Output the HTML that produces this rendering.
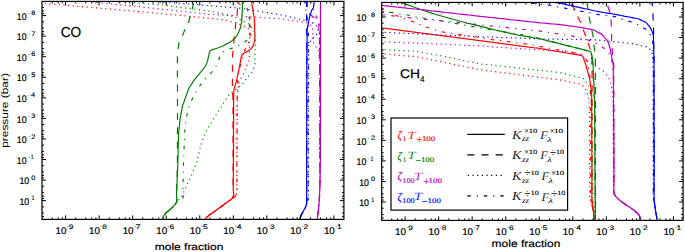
<!DOCTYPE html>
<html><head><meta charset="utf-8"><style>
html,body{margin:0;padding:0;background:#fff;width:685px;height:252px;overflow:hidden}
svg{display:block}
text{font-family:"Liberation Sans",sans-serif;text-rendering:geometricPrecision}
</style></head><body>
<svg width="685" height="252" viewBox="0 0 685 252" font-family="Liberation Sans, sans-serif">
<rect width="685" height="252" fill="#fff"/>
<defs><clipPath id="cl"><rect x="42" y="1.4" width="301.9" height="218"/></clipPath><clipPath id="cr"><rect x="381.7" y="2.45" width="301.4" height="217.95"/></clipPath></defs>
<g clip-path="url(#cl)">
<path d="M251.4 0 251.6 1.7 251.9 3.3 252.1 5 252.3 6.7 252.6 8.3 252.8 10 253.2 12.4 253.6 14.8 254 17.1 254.4 19.5 254.5 21.8 254.6 24.2 254.6 26.7 254.7 29 254.8 31.4 254.8 33.8 254.8 35.8 254.8 37.8 254.7 39.8 254.4 41.7 253.8 43.9 252.9 46.1 251.8 47.9 250.4 49.3 248.7 50.5 247 51.5 244.8 52.7 242.9 53.9 241.5 55.9 241 57.9 240.6 60.4 240.2 62.8 239.8 65.2 239.3 67.5 238.9 69.8 238.4 72 237.9 74.1 237.4 76.2 237 78.4 236.5 80.5 236 82.7 235.3 85 234.5 87.4 234 89.6 233.8 91.4 233.8 93.1 233.8 94.8 233.7 96.5 233.7 98.2 233.6 100 233.6 102.3 233.6 104.7 233.6 107.1 233.6 109.5 233.6 111.9 233.6 114.3 233.6 116.7 233.6 119 233.6 121.4 233.6 123.8 233.5 126.2 233.5 128.6 233.5 131 233.5 133.3 233.5 135.7 233.5 138.1 233.5 140.5 233.5 142.9 233.5 145.2 233.5 147.6 233.5 150 233.5 151.9 233.5 153.9 233.5 155.8 233.4 157.8 233.4 159.7 233.4 161.7 233.4 163.6 233.4 165.6 233.4 167.5 233.4 169.5 233.4 171.4 233.4 173.3 233.3 175.3 233.3 177.2 233.3 179.2 233.3 181.1 233.3 183.1 233.3 185 233.3 187 233.2 188.9 233.4 190.9 233.6 193 233.6 194.9 233.2 196.7 232.2 198.2 230.7 199.5 229.1 200.7 227.6 201.8 225.9 203.1 224.3 204.3 222.6 205.4 221 206.7 219.3 207.9 217.7 209.1 216.2 210.2 214.8 211.2 213.4 212.2 211.9 213.2 210.5 214.2 209.1 215.3 207.1 216.9 205.5 218.5 204.8 219.7 204.3 221.0" stroke="#ff0000" stroke-width="1.2" fill="none" stroke-linejoin="round"/>
<path d="M236.8 1.6 238.2 2.6 239.2 3.7 240.3 4.9" stroke="#ff0000" stroke-width="1.2" fill="none" stroke-linejoin="round"/>
<path d="M237.5 7 237.5 8.2 237.4 9.5 237.4 11.6 237.2 14 236.8 16.2 236.2 18.6 235.8 21 235.6 23.4 235.5 25.8 235.4 28 235.1 30.1 234.8 32 234.5 34 234.2 36 234.1 37.7 234 39.6 233.9 41.4 233.7 43.2 233.6 45.1 233.5 46.8 233.3 48.9 233.1 50.9 232.8 52.9 232.6 55 232.5 57.2 232.6 59.6 232.6 62 232.5 64.3 232.5 66.7 232.5 69 232.5 71.3 232.5 73.7 232.5 76 232.5 78.3 232.5 80.7 232.4 83 232.4 85.4 232.4 87.8 232.4 90 232.5 91.7 232.6 93.4 232.7 95 232.8 96.6 232.9 98.3 233 100 233 102.3 233 104.7 233 107.1 233 109.5 233 111.9 233 114.3 233 116.7 233 119 233 121.4 233 123.8 233 126.2 233 128.6 233 131 233 133.3 233 135.7 233 138.1 233 140.5 233 142.9 233 145.2 233 147.6 233 150 233 151.9 233 153.9 233 155.8 233 157.8 233 159.7 233.1 161.7 233.1 163.6 233.1 165.6 233.1 167.5 233.1 169.5 233.1 171.4 233.1 173.4 233.1 175.3 233.1 177.2 233.1 179.2 233.1 181.1 233.1 183.1 233.2 185 233.2 187 233.2 188.9 233.3 190.9 233.5 193 233.6 194.9 233.2 196.7 232.2 198.2 230.7 199.5 229.1 200.7 227.6 201.8 225.9 203.1 224.3 204.3 222.6 205.4 221 206.7 219.3 207.9 217.7 209.1 216.2 210.2 214.8 211.2 213.4 212.2 211.9 213.2 210.5 214.2 209.1 215.3 207.1 216.9 205.5 218.5 204.8 219.7 204.3 221.0" stroke="#ff0000" stroke-width="1.2" fill="none" stroke-linejoin="round" stroke-dasharray="7.1,7.1" stroke-dashoffset="13.00"/>
<path d="M42 3.2 44.4 3.4 46.9 3.6 49.3 3.8 51.7 4 54.2 4.3 56.6 4.5 59 4.7 61.5 4.9 63.9 5.1 66.3 5.3 68.8 5.5 71.2 5.7 73.6 5.9 76.1 6.2 78.5 6.4 80.9 6.6 83.4 6.8 85.8 7 88.2 7.2 90.5 7.4 92.8 7.6 95.2 7.8 97.5 8 99.8 8.2 102.2 8.4 104.5 8.6 106.9 8.8 109.2 9 111.6 9.2 113.9 9.4 116.2 9.6 118.6 9.8 120.9 10 123.3 10.2 125.6 10.4 128 10.6 130.3 10.8 132.6 11 135 11.2 137.3 11.4 139.7 11.6 142 11.8 144.3 12 146.6 12.2 149 12.5 151.3 12.7 153.6 12.9 155.9 13.1 158.3 13.3 160.6 13.5 162.9 13.8 165.2 14 167.5 14.2 169.9 14.4 172.2 14.6 174.5 14.8 176.8 15.1 179.1 15.3 181.4 15.5 183.8 15.7 185.7 15.9 187.7 16.1 189.7 16.3 191.7 16.5 193.7 16.7 195.7 16.9 197.7 17.1 199.7 17.3 201.7 17.5 203.7 17.7 205.7 17.9 207.6 18.1 209.6 18.3 211.4 18.5 213.3 18.7 215.2 18.9 217.1 19.1 219 19.3 220.9 19.5 222.8 19.6 224.7 19.9 226.7 20.4 228.8 21.1 230.8 21.7 232.8 22.3 234.9 22.9 236.9 23.5 239.1 24.2 241.2 25 243.3 25.9 245.2 26.8 247.1 27.7 248.5 29 249.2 30.8 249.5 32.9 249.6 35 249.7 37.1 249.6 39.1 249.5 41.2 249.5 43.3 249.5 45.3 249.5 47.4 249.4 49.5 249.4 51.5 249.4 53.6 249.4 55.7 249.5 57.8 249.3 59.8 248.6 61.8 247.7 63.9 246.8 65.8 246.1 67.5 245.5 69.1 244.8 70.8 243.9 72.7 242.9 74.7 241.9 76.7 240.8 78.7 239.8 80.6 238.9 82.7 238.5 84.6 238.2 86.7 238.1 88.7 237.9 90.6 237.7 93 237.6 95.3 237.4 97.6 237.2 100 237.2 101.8 237.2 103.8 237.2 105.8 237.2 107.8 237.2 109.7 237.2 111.7 237.1 113.6 237.1 115.6 237.1 117.5 237.1 119.5 237.1 121.4 237.1 123.4 237.1 125.3 237.1 127.2 237.1 129.2 237.1 131.1 237.1 133.1 237.1 135 237 137 237 138.9 237 140.9 237 142.8 237 144.8 237 146.7 237 148.6 237 150.6 237 152.5 237 154.5 237 156.4 236.9 158.4 236.9 160.3 236.9 162.3 236.9 164.2 236.9 166.2 236.9 168.1 236.9 170.1 236.9 172 236.9 173.9 236.9 175.9 236.9 177.8 236.9 179.8 236.9 181.7 236.8 183.7 236.8 185.6 236.9 187.6 237.1 189.6 237.1 191.6 236.8 193.4 235.9 195.3 234.5 197 233 198.5 231.3 199.7 229.4 200.7 227.6 201.8 225.9 203 224.3 204.2 222.7 205.5 221 206.7 219.3 207.9 217.7 209.1 216.2 210.2 214.8 211.2 213.4 212.2 211.9 213.2 210.5 214.2 209.1 215.3 207.1 216.9 205.5 218.5 204.8 219.7 204.3 221.0" stroke="#ff0000" stroke-width="1.2" fill="none" stroke-linejoin="round" stroke-dasharray="1.17,3.5" stroke-dashoffset="1.90"/>
<path d="M249.4 16.5 249.7 18.6 250 20.8 250.3 22.8 250.5 25 250.5 26.7 250.4 28.6 250.3 30.6 250.3 32.5 250.3 34.5 250.3 36.5 250.3 38.4 250 40 249 41.5 247.9 43 247.1 44.5 246.3 46.3 245.6 48.2 244.9 50 244.2 52 243.6 54 242.9 56 242.3 58 241.6 59.9 241 62 240.6 63.8 240.2 65.6 239.8 67.5 239.4 69.3 239 71.2 238.6 73 238.2 74.8 237.9 76.7 237.7 78.6 237.7 80.6 237.7 82.5 237.7 84.5 237.6 86.4 237.5 88.3 237.5 90.3 237.4 92.2 237.4 94.2 237.3 96.1 237.2 98.1 237.2 100 237.2 101.9 237.2 103.9 237.2 105.8 237.2 107.8 237.2 109.7 237.2 111.7 237.1 113.6 237.1 115.6 237.1 117.5 237.1 119.5 237.1 121.4 237.1 123.4 237.1 125.3 237.1 127.2 237.1 129.2 237.1 131.1 237.1 133.1 237.1 135 237 137 237 138.9 237 140.9 237 142.8 237 144.8 237 146.7 237 148.6 237 150.6 237 152.5 237 154.5 237 156.4 236.9 158.4 236.9 160.3 236.9 162.3 236.9 164.2 236.9 166.2 236.9 168.1 236.9 170.1 236.9 172 236.9 173.9 236.9 175.9 236.9 177.8 236.9 179.8 236.9 181.7 236.8 183.7 236.8 185.6 236.9 187.6 237.1 189.6 237.1 191.6 236.8 193.4 235.9 195.3 234.5 197 233 198.5 231.3 199.7 229.4 200.7 227.6 201.8 225.9 203 224.3 204.2 222.7 205.5 221 206.7 219.3 207.9 217.7 209.1 216.2 210.2 214.8 211.2 213.4 212.2 211.9 213.2 210.5 214.2 209.1 215.3 207.1 216.9 205.5 218.5 204.8 219.7 204.3 221.0" stroke="#ff0000" stroke-width="1.2" fill="none" stroke-linejoin="round" stroke-dasharray="3.5,5.9,1.17,5.9"/>
<path d="M242.5 0 242.5 1.7 242.4 3.3 242.4 5 242.4 6.7 242.3 8.3 242.3 10 242.2 11.7 242.1 13.3 242.1 15 242 16.6 241.9 18.3 241.8 20 241.5 22.3 241.1 24.7 240.6 27.1 239.9 29.2 239.1 31.2 238.2 33.1 237.1 35 236 36.8 234.6 38.5 232.9 40 231.1 41.4 229.3 42.6 227.5 43.6 225.7 44.4 224 45.3 222.1 46.2 220.3 47 218.4 47.7 216.5 48.5 214.2 49.1 212 49.8 210.2 50.8 209.4 52.3 209.1 54.1 208.7 55.9 208.2 58 207.7 60.2 207.1 62.2 206.4 63.9 205.6 65.5 204.7 67 203.3 68.8 201.9 70.6 200.5 72.3 199.1 74.1 197.6 75.9 195.9 77.8 194.4 79.7 193 81.8 191.7 83.8 190.3 85.8 189 88 188.1 90.2 187.2 92.6 186.4 95 185.7 96.9 185.1 98.7 184.4 100.5 183.8 102.4 183.1 104.2 182.5 106.1 182 108.2 181.7 110.3 181.3 112.4 180.9 114.6 180.5 116.7 180.1 118.8 179.9 120.6 179.7 122.4 179.6 124.2 179.4 126 179.2 127.8 179 129.6 178.8 131.4 178.7 133.1 178.5 135 178.4 136.8 178.4 138.7 178.4 140.6 178.3 142.5 178.3 144.4 178.2 146.2 178.2 148.1 178.1 150 178.1 151.9 178.1 153.8 178 155.6 178 157.5 177.9 159.4 177.9 161.3 177.9 163.1 177.8 165 177.7 166.9 177.6 168.8 177.6 170.6 177.5 172.5 177.4 174.4 177.3 176.2 177.2 178.1 177.1 180 177.1 181.9 177 183.7 176.9 185.6 176.8 187.5 176.7 189.4 176.6 191.3 176.6 193.1 176.5 195 176.6 197.4 176.8 199.8 176.6 202 175.8 203.5 174.7 204.9 173.5 206.2 172.2 207.5 170.8 208.8 169.5 210 167.7 211.4 166.1 212.8 165 214.1 164 215.5 163.2 217 162.6 218.5 162.3 219.8 162 221.0" stroke="#008000" stroke-width="1.2" fill="none" stroke-linejoin="round"/>
<path d="M192.7 0 192.9 2 193 4.2 192.8 6.3 192.5 8.5 192 10.7 191.5 12.5 191 14.3 190.4 16.1 189.8 17.9 189.2 20.1 188.7 22.3 188 24.4 186.9 26.6 185.6 28.7 184.5 30.7 183.6 32.8 182.8 34.9 181.9 36.9 181 39 179.9 40.8 179 42.6 178.6 44.7 178.4 46.8 178 48.9 177.7 51 177.6 52.6 177.5 54.2 177.4 56 177.4 58.3 177.4 60.8 177.4 63.3 177.4 65.8 177.4 68.2 177.4 70.7 177.4 73.1 177.4 75.6 177.4 78 177.5 80.4 177.5 82.9 177.5 85.3 177.5 87.8 177.5 90.2 177.5 92.7 177.5 95.1 177.5 97.6 177.5 100 177.5 102.4 177.5 104.8 177.5 107.2 177.5 109.6 177.5 112 177.5 114.4 177.5 116.9 177.5 119.3 177.5 121.7 177.5 124.1 177.5 126.5 177.5 128.9 177.5 131.3 177.4 133.7 177.4 136.1 177.4 138.5 177.4 140.9 177.4 143.3 177.4 145.7 177.4 148.1 177.4 150.6 177.4 153 177.4 155.4 177.4 157.8 177.4 160.2 177.4 162.6 177.4 165 177.4 166.9 177.3 168.7 177.2 170.6 177.2 172.5 177.1 174.4 177.1 176.3 177 178.1 176.9 180 176.9 181.9 176.8 183.8 176.8 185.6 176.7 187.5 176.7 189.4 176.6 191.3 176.5 193.1 176.5 195 176.7 197.4 176.8 199.8 176.6 202 175.8 203.5 174.7 204.9 173.5 206.2 172.2 207.5 170.8 208.8 169.5 210 167.7 211.4 166.1 212.8 165 214.1 164 215.5 163.2 217 162.6 218.5 162.3 219.8 162 221.0" stroke="#008000" stroke-width="1.2" fill="none" stroke-linejoin="round" stroke-dasharray="7.1,7.1" stroke-dashoffset="11.87"/>
<path d="M245.5 0 245.7 2 245.9 4 246.2 6 246.8 8 247.6 10 248.2 12 248.6 14.5 248.8 16.9 249.2 19.4 249.5 21.8 249.6 23.9 249.6 25.9 249.6 27.9 249.6 30 249.6 32.4 249.4 35 248.9 37.3 248 38.9 246.8 40.2 245.5 41.5 243.8 42.8 242 43.9 240 45 238.3 45.8 236.5 46.6 234.7 47.4 233 48 230.6 48.7 228.3 49.5 226.3 50.3 224.2 51.3 222.5 52.5 221.3 54 220.4 55.7 219.6 57.5 218.9 59.2 218.3 60.9 217.6 62.6 216.7 64.7 215.7 66.9 214.5 69 213.1 70.8 211.6 72.4 210 74 208.5 75.4 207.1 76.7 205.7 78.1 204.5 79.6 203.3 81.2 202.1 82.8 200.9 84.4 199.7 86 198.6 87.6 197.6 89.3 196.6 91.1 195.6 92.9 194.6 94.8 193.5 96.6 192.6 98.3 191.6 100.5 190.7 102.6 189.7 104.7 188.8 106.9 188.2 109.3 187.8 111.7 187.2 114 186.7 116.4 186.3 118.6 186 120.7 185.6 122.8 185.3 125 185.2 126.6 185.1 128.3 184.9 130 184.8 131.6 184.7 133.3 184.6 135 184.5 136.8 184.4 138.7 184.4 140.6 184.3 142.5 184.2 144.4 184.1 146.2 184.1 148.1 184 150 183.9 151.9 183.8 153.8 183.8 155.6 183.7 157.5 183.6 159.4 183.5 161.3 183.5 163.2 183.4 165 183.3 167.2 183.3 169.4 183.3 171.6 183.2 173.8 183.2 176 183.2 178.2 183.1 180.4 183.1 182.6 183 184.8 183 187 183 189.2 182.9 191.4 183.1 193.7 183.3 196 182.8 198 181.1 199.5 178.7 200.7 176.6 202 175.5 203.4 174.5 204.8 173.5 206.2 172.2 207.5 170.8 208.8 169.5 210 167.7 211.4 166.1 212.8 165 214.1 164 215.5 163.2 217 162.6 218.5 162.3 219.8 162 221.0" stroke="#008000" stroke-width="1.2" fill="none" stroke-linejoin="round" stroke-dasharray="3.5,5.9,1.17,5.9" stroke-dashoffset="8.36"/>
<path d="M120 1.8 122.2 1.9 124.4 2.1 126.7 2.2 128.9 2.3 131.1 2.5 133.3 2.6 135.5 2.7 137.8 2.9 140 3 142.5 3.2 145 3.4 147.5 3.7 150 3.9 152.4 4.1 154.9 4.3 157.4 4.5 159.9 4.8 162.4 5 164.8 5.3 167.2 5.6 169.6 6 171.9 6.3 174.3 6.6 176.7 6.9 178.8 7.2 180.9 7.4 183 7.7 185.1 8 187.3 8.2 189.4 8.5 191.5 8.8 193.6 9 195.7 9.3 197.7 9.6 199.7 9.9 201.7 10.2 203.7 10.5 205.6 10.7 207.6 11 209.6 11.3 211.6 11.6 213.6 11.9 215.5 12.3 217.4 12.7 219.2 13.1 221.1 13.5 223 13.9 224.9 14.3 226.8 14.7 228.7 15 230.5 15.5 232.1 16.1 233.7 16.8 235.2 17.5 236.8 18.2 238.4 18.8 240 19.5 241.5 20.2 243 21 244.5 21.8 246.1 22.4 247.6 23.1 249 24 250.4 25.8 251.7 27.9 253.1 29.7 254.3 31.7 254.6 33.7 254.8 35.9 255 37.9 255.2 40 255.2 41.9 255.2 44 255.1 46 255.1 48 255 50 255 52 255 54.1 254.9 56.3 254.9 58.4 254.9 60.5 255 62.7 254.8 64.8 254.3 66.9 253.6 68.9 252.8 70.8 251.9 72.2 250.9 73.5 249.8 74.8 248.5 76.4 247.2 78 245.8 79.7 244.5 81.4 243.3 83.1 241.9 84.7 240.3 86.1 238.6 87.4 236.9 88.7 235.1 90 233.2 91.3 231.5 92.6 230.1 93.9 228.9 95.2 227.7 96.6 226.4 98.5 225.1 100.6 223.8 102.7 222.5 104.8 221.2 106.8 219.9 108.9 218.6 110.9 217.3 113 216 115 214.8 116.9 213.7 118.8 212.5 120.8 211.3 122.7 210.2 124.6 209 126.5 207.8 128.4 206.6 130.3 205.5 132.3 204.6 134.5 203.9 136.8 203.1 139.1 202.3 141.3 201.4 143.6 200.7 145.8 200.2 147.7 199.8 149.5 199.4 151.4 198.9 153.3 198.5 155.1 198 157 197.6 158.9 197.2 160.8 196.7 162.6 196.1 164.4 195.3 166.1 194.6 167.8 193.9 169.5 193.2 171.2 192.5 173 191.6 175 190.7 176.9 189.8 178.9 188.9 180.9 188 182.9 187.1 184.8 186.2 186.8 185.3 188.8 184.4 190.8 183.5 192.8 182.7 194.9 181.7 196.7 180.4 198.4 178.9 199.8 177.6 201.4 176.2 203 174.9 204.6 173.5 206.2 172.2 207.5 170.9 208.8 169.5 210 167.7 211.4 166.1 212.8 165 214.1 164 215.5 163.2 217 162.6 218.5 162.3 219.8 162 221.0" stroke="#008000" stroke-width="1.2" fill="none" stroke-linejoin="round" stroke-dasharray="1.17,3.5"/>
<path d="M320.5 0 320.5 1.9 320.5 3.8 320.5 5.8 320.5 7.7 320.5 9.6 320.5 11.5 320.5 13.5 320.5 15.4 320.5 17.3 320.5 19.2 320.5 21.2 320.5 23.1 320.5 25 320.5 26.9 320.5 28.8 320.5 30.8 320.5 32.7 320.5 34.6 320.5 36.5 320.5 38.5 320.5 40.4 320.5 42.3 320.5 44.2 320.5 46.2 320.5 48.1 320.5 50 320.5 51.9 320.5 53.8 320.5 55.8 320.5 57.7 320.5 59.6 320.5 61.5 320.5 63.5 320.5 65.4 320.5 67.3 320.5 69.2 320.5 71.2 320.5 73.1 320.5 75 320.5 76.9 320.5 78.8 320.5 80.8 320.5 82.7 320.5 84.6 320.5 86.5 320.5 88.5 320.5 90.4 320.5 92.3 320.5 94.2 320.5 96.2 320.5 98.1 320.5 100 320.5 101.9 320.5 103.8 320.5 105.6 320.5 107.5 320.5 109.4 320.5 111.2 320.5 113.1 320.5 115 320.5 116.9 320.5 118.8 320.5 120.6 320.5 122.5 320.5 124.4 320.5 126.2 320.5 128.1 320.4 130 320.4 131.9 320.4 133.8 320.4 135.6 320.4 137.5 320.4 139.4 320.4 141.2 320.4 143.1 320.4 145 320.4 146.9 320.4 148.8 320.4 150.6 320.4 152.5 320.4 154.4 320.4 156.3 320.4 158.2 320.4 160 320.4 162.1 320.3 164.2 320.3 166.2 320.2 168.3 320.2 170.4 320.1 172.5 320.1 174.6 320.1 176.7 320 178.8 320 180.8 320 182.9 319.9 185 319.8 186.8 319.8 188.7 319.7 190.6 319.6 192.5 319.5 194.4 319.5 196.4 319.4 198.3 319.3 200 319.1 202.1 319 204 318.8 206 318.6 208 318.4 210 318.1 212 317.8 214 317.6 216 317.5 217.6 317.3 219.3 317.2 221.0" stroke="#bf00bf" stroke-width="1.2" fill="none" stroke-linejoin="round"/>
<path d="M307.4 0 307.4 1.9 307.4 3.9 307.4 5.8 307.2 7.8 307.1 9.8 307.4 11.6 308.6 13.2 310.3 14.7 312 16 313.7 17.5 315.2 19 317 20.4 318.5 22 318.9 23.8 318.9 25.9 318.8 28 318.9 30 319.1 32 319.2 34 319.3 36 319.4 37.9 319.5 40 319.5 41.8 319.5 43.8 319.5 45.7 319.5 47.6 319.5 49.5 319.5 51.4 319.5 53.4 319.5 55.3 319.5 57.2 319.6 59.1 319.6 61 319.6 62.9 319.6 64.8 319.6 66.7 319.6 68.6 319.6 70.5 319.6 72.4 319.6 74.3 319.6 76.2 319.6 78.2 319.6 80.1 319.6 82 319.6 83.9 319.6 85.8 319.6 87.7 319.6 89.6 319.6 91.5 319.6 93.4 319.7 95.3 319.7 97.2 319.7 99.1 319.7 101.1 319.7 103 319.7 104.9 319.7 106.8 319.7 108.7 319.7 110.6 319.7 112.5 319.7 114.4 319.7 116.3 319.7 118.2 319.7 120.1 319.7 122 319.7 123.9 319.7 125.9 319.7 127.8 319.7 129.7 319.8 131.6 319.8 133.5 319.8 135.4 319.8 137.3 319.8 139.2 319.8 141.1 319.8 143 319.8 144.9 319.8 146.8 319.8 148.7 319.8 150.7 319.8 152.6 319.8 154.5 319.8 156.4 319.8 158.3 319.8 160.2 319.8 162.1 319.8 164 319.8 165.9 319.9 167.8 319.9 169.7 319.9 171.6 319.9 173.6 319.9 175.5 319.9 177.4 319.9 179.3 319.9 181.2 319.9 183.1 319.9 185 319.8 186.9 319.8 188.8 319.7 190.6 319.6 192.5 319.5 194.4 319.5 196.4 319.4 198.3 319.3 200 319.1 202.1 319 204 318.8 206 318.6 208 318.4 210 318.1 212 317.8 214 317.6 216 317.5 217.6 317.3 219.3 317.2 221.0" stroke="#bf00bf" stroke-width="1.2" fill="none" stroke-linejoin="round" stroke-dasharray="7.1,7.1"/>
<path d="M310 0 310.7 1.8 311.3 3.6 312 5.3 312.7 7.1 313.3 8.9 314 10.7 314.7 12.5 315.3 14.2 316 16 316.6 17.7 317.2 19.3 317.8 21 318.4 22.6 319 24.2 319.5 26 319.7 28.3 319.6 30.9 319.5 33.4 319.5 35.9 319.5 38.3 319.5 40.8 319.5 43.3 319.5 45.7 319.5 48.2 319.5 50.7 319.5 53.1 319.5 55.6 319.5 58.1 319.5 60.5 319.6 63 319.6 65.5 319.6 67.9 319.6 70.4 319.6 72.9 319.6 75.3 319.6 77.8 319.6 80.3 319.6 82.7 319.6 85.2 319.6 87.7 319.6 90.1 319.6 92.6 319.6 95.1 319.6 97.5 319.6 100 319.6 101.9 319.6 103.9 319.6 105.8 319.6 107.7 319.6 109.7 319.6 111.6 319.6 113.5 319.7 115.5 319.7 117.4 319.7 119.3 319.7 121.2 319.7 123.2 319.7 125.1 319.7 127 319.7 129 319.7 130.9 319.7 132.8 319.7 134.8 319.7 136.7 319.7 138.6 319.7 140.6 319.8 142.5 319.8 144.4 319.8 146.4 319.8 148.3 319.8 150.2 319.8 152.2 319.8 154.1 319.8 156 319.8 158 319.8 159.9 319.8 161.8 319.8 163.8 319.8 165.7 319.8 167.6 319.8 169.5 319.9 171.5 319.9 173.4 319.9 175.3 319.9 177.3 319.9 179.2 319.9 181.1 319.9 183.1 319.9 185 319.8 186.9 319.8 188.8 319.7 190.6 319.6 192.5 319.5 194.4 319.5 196.4 319.4 198.3 319.3 200 319.1 202.1 319 204 318.8 206 318.6 208 318.4 210 318.1 212 317.8 214 317.6 216 317.5 217.6 317.3 219.3 317.2 221.0" stroke="#bf00bf" stroke-width="1.2" fill="none" stroke-linejoin="round" stroke-dasharray="3.5,5.9,1.17,5.9"/>
<path d="M92.4 1.8 94.8 2 97.1 2.3 99.5 2.5 101.8 2.8 104.2 3 106.6 3.3 108.9 3.5 111.3 3.8 113.7 4 116 4.3 118.4 4.5 120.7 4.8 123.1 5 125.5 5.3 127.8 5.5 130.2 5.8 132.6 6 134.9 6.3 137.3 6.5 139.6 6.7 142 7 144.5 7.3 146.9 7.5 149.4 7.8 151.9 8.1 154.3 8.4 156.8 8.6 159.3 8.9 161.7 9.2 164.2 9.4 166.7 9.7 169.1 10 171.6 10.2 174.1 10.5 176.5 10.8 179 11.1 181.5 11.3 183.9 11.6 186.4 11.9 188.9 12.1 191.3 12.4 193.8 12.7 196.3 12.9 198.7 13.2 201.2 13.5 203.7 13.8 206.2 14.1 208.6 14.3 210.8 14.4 212.9 14.5 215.1 14.6 217.2 14.7 219.4 14.9 221.5 15 223.7 15.1 225.8 15.2 228 15.3 230.4 15.5 232.9 15.6 235.4 15.8 237.9 16 240.4 16.1 242.9 16.3 245.3 16.5 247.8 16.6 250.3 16.8 252.8 17 255.2 17.1 257.7 17.3 260.2 17.5 262.7 17.6 265.1 17.8 267.6 18 270.1 18.1 272.6 18.3 275.1 18.4 277.6 18.6 280 18.8 282.1 19.1 284.1 19.4 286.1 19.7 288.2 20 290.2 20.3 292.3 20.6 294.4 20.8 296.4 21.1 298.5 21.4 300.5 21.7 302.6 21.9 304.6 22.3 306.4 22.7 308 23.2 309.5 24 311.2 25.7 312.4 28 312.8 30.3 312.7 33 312.6 35.4 312.4 37.8 312.4 40.1 313.2 42.3 314.4 44.3 315.6 46.1 316.8 47.9 317.8 49.9 318.6 52 319 54 319.2 56.2 319.3 58.4 319.3 60.7 319.4 63.1 319.4 65.4 319.5 67.7 319.5 70 319.5 71.9 319.5 73.8 319.5 75.7 319.5 77.7 319.5 79.6 319.5 81.5 319.5 83.4 319.6 85.3 319.6 87.2 319.6 89.2 319.6 91.1 319.6 93 319.6 94.9 319.6 96.8 319.6 98.8 319.6 100.7 319.6 102.6 319.6 104.5 319.6 106.4 319.6 108.3 319.6 110.2 319.6 112.2 319.7 114.1 319.7 116 319.7 117.9 319.7 119.8 319.7 121.8 319.7 123.7 319.7 125.6 319.7 127.5 319.7 129.4 319.7 131.3 319.7 133.2 319.7 135.2 319.7 137.1 319.7 139 319.7 140.9 319.8 142.8 319.8 144.8 319.8 146.7 319.8 148.6 319.8 150.5 319.8 152.4 319.8 154.3 319.8 156.2 319.8 158.2 319.8 160.1 319.8 162 319.8 163.9 319.8 165.8 319.8 167.8 319.8 169.7 319.9 171.6 319.9 173.5 319.9 175.4 319.9 177.3 319.9 179.3 319.9 181.2 319.9 183.1 319.9 185 319.8 186.9 319.8 188.8 319.7 190.6 319.6 192.5 319.5 194.4 319.5 196.4 319.4 198.3 319.3 200 319.1 202.1 319 204 318.8 206 318.6 208 318.4 210 318.1 212 317.8 214 317.6 216 317.5 217.6 317.3 219.3 317.2 221.0" stroke="#bf00bf" stroke-width="1.2" fill="none" stroke-linejoin="round" stroke-dasharray="1.17,3.5"/>
<path d="M314.5 0 314.2 2 313.9 4 313.7 6.1 313.3 8 311.9 9.9 311.2 11.8 310.6 13.9 310 15.8 309.4 17.9 309 19.8 308.6 21.8 308.2 23.8 307.8 25.8 307.5 27.9 307.2 30 307.1 31.8 307.1 33.7 307.1 35.6 307.1 37.5 307.1 39.4 307.1 41.2 307 43.1 307 45 307 46.9 306.9 48.8 306.9 50.6 306.9 52.5 306.9 54.4 306.8 56.2 306.8 58.1 306.8 60 306.8 61.9 306.8 63.7 306.8 65.6 306.8 67.5 306.8 69.4 306.8 71.2 306.8 73.1 306.8 75 306.8 76.9 306.8 78.8 306.8 80.6 306.8 82.5 306.8 84.4 306.8 86.2 306.7 88.1 306.7 90 306.7 91.9 306.7 93.8 306.7 95.6 306.7 97.5 306.7 99.4 306.7 101.3 306.7 103.1 306.7 105 306.7 106.9 306.7 108.8 306.7 110.6 306.7 112.5 306.7 114.4 306.7 116.3 306.7 118.1 306.7 120 306.7 121.9 306.7 123.8 306.7 125.6 306.7 127.5 306.7 129.4 306.7 131.2 306.7 133.1 306.7 135 306.7 136.9 306.7 138.8 306.6 140.6 306.6 142.5 306.6 144.4 306.6 146.2 306.6 148.1 306.6 150 306.6 151.9 306.6 153.8 306.6 155.6 306.6 157.5 306.6 159.4 306.6 161.2 306.6 163.1 306.6 165 306.6 166.9 306.6 168.8 306.6 170.7 306.6 172.6 306.6 174.6 306.6 176.5 306.6 178.4 306.6 180.3 306.6 182.2 306.6 184.1 306.6 186 306.6 187.9 306.6 189.8 306.6 191.7 306.6 193.6 306.6 195.6 306.6 197.6 306.6 199.7 306.6 201.7 306.6 203.2 306.4 205 305.6 206.9 304.5 209 303.6 210.6 302.7 212.3 301.8 214 300.8 216.3 300 218.5 299.7 219.8 299.5 221.0" stroke="#0000ff" stroke-width="1.2" fill="none" stroke-linejoin="round"/>
<path d="M306.6 0 306.6 2.1 306.6 4.2 306.6 6.2 306.6 8.3 306.6 10.4 306.6 12.5 306.6 14.6 306.6 16.7 306.6 18.8 306.6 20.8 306.6 22.9 306.6 25 306.6 27.3 306.6 29.7 306.6 32 306.7 34.3 306.7 36.7 306.7 39 306.7 41.3 306.7 43.7 306.7 46 306.7 48.3 306.7 50.7 306.8 53 306.8 55.3 306.8 57.6 306.8 60 306.8 61.9 306.8 63.9 306.8 65.8 306.8 67.8 306.8 69.7 306.8 71.7 306.8 73.6 306.8 75.6 306.8 77.5 306.8 79.4 306.8 81.4 306.8 83.3 306.8 85.3 306.8 87.2 306.8 89.2 306.8 91.1 306.8 93.1 306.8 95 306.8 96.9 306.8 98.9 306.8 100.8 306.8 102.8 306.8 104.7 306.8 106.7 306.8 108.6 306.8 110.6 306.8 112.5 306.8 114.4 306.8 116.4 306.8 118.3 306.8 120.3 306.8 122.2 306.8 124.2 306.8 126.1 306.8 128.1 306.8 130 306.8 131.9 306.8 133.9 306.8 135.8 306.8 137.8 306.8 139.7 306.8 141.7 306.8 143.6 306.8 145.6 306.8 147.5 306.8 149.4 306.8 151.4 306.8 153.3 306.8 155.3 306.8 157.2 306.8 159.2 306.8 161.1 306.8 163.1 306.8 165 306.8 166.9 306.8 168.9 306.8 170.8 306.8 172.8 306.8 174.7 306.8 176.7 306.8 178.6 306.8 180.6 306.8 182.5 306.8 184.4 306.8 186.4 306.8 188.3 306.8 190.3 306.8 192.2 306.8 194.2 306.8 196.3 306.8 198.3 306.8 200 306.7 201.7 306.6 203.2 306.4 205 305.6 206.9 304.5 209 303.6 210.6 302.7 212.3 301.8 214 300.8 216.3 300 218.5 299.7 219.8 299.5 221.0" stroke="#0000ff" stroke-width="1.2" fill="none" stroke-linejoin="round" stroke-dasharray="7.1,7.1"/>
<path d="M304.5 0 304.8 2 305 4 305.2 6 305.5 8 305.8 9.9 306.2 12 306.5 14 306.9 16 307.2 18 307.5 20 307.7 21.7 307.8 23.3 308 25 308.1 26.6 308.3 28.3 308.4 30 308.4 31.8 308.4 33.8 308.4 35.8 308.4 37.8 308.4 39.7 308.4 41.7 308.4 43.6 308.4 45.6 308.3 47.5 308.3 49.4 308.3 51.4 308.3 53.3 308.3 55.3 308.3 57.2 308.3 59.2 308.3 61.1 308.3 63.1 308.3 65 308.3 66.9 308.3 68.9 308.3 70.8 308.3 72.8 308.3 74.7 308.3 76.7 308.3 78.6 308.3 80.6 308.2 82.5 308.2 84.4 308.2 86.4 308.2 88.3 308.2 90.3 308.2 92.2 308.2 94.2 308.2 96.1 308.2 98.1 308.2 100 308.2 101.9 308.2 103.8 308.2 105.7 308.2 107.5 308.2 109.4 308.2 111.3 308.2 113.2 308.2 115.1 308.2 117 308.2 118.8 308.2 120.7 308.2 122.6 308.2 124.5 308.2 126.4 308.2 128.3 308.2 130.2 308.2 132 308.2 133.9 308.2 135.8 308.2 137.7 308.2 139.6 308.2 141.5 308.2 143.3 308.2 145.2 308.2 147.1 308.2 149 308.2 150.9 308.2 152.8 308.2 154.7 308.2 156.5 308.2 158.4 308.2 160.3 308.2 162.2 308.2 164.1 308.2 166 308.2 167.8 308.2 169.7 308.2 171.6 308.2 173.5 308.2 175.4 308.2 177.3 308.2 179.2 308.2 181 308.2 182.9 308.2 184.8 308.2 186.7 308.2 188.6 308.2 190.5 308.2 192.4 308.3 194.3 308.3 196.2 308.2 198 307.7 199.9 307.1 201.7 306.6 203.2 306.4 205 305.6 206.9 304.5 209 303.6 210.6 302.7 212.3 301.8 214 300.8 216.3 300 218.5 299.7 219.8 299.5 221.0" stroke="#0000ff" stroke-width="1.2" fill="none" stroke-linejoin="round" stroke-dasharray="3.5,5.9,1.17,5.9"/>
<path d="M160 1.8 161.8 1.9 163.6 2 165.3 2.1 167.1 2.3 168.8 2.4 170.7 2.5 172.5 2.6 174.5 2.8 176.4 3 178.4 3.1 180.3 3.3 182.2 3.5 184.2 3.6 186.1 3.8 188 3.9 189.9 4.1 191.9 4.2 193.8 4.4 195.7 4.6 197.7 4.7 199.6 4.9 201.5 5 203.4 5.2 205.4 5.3 207.3 5.5 209.2 5.7 211.1 5.8 213.1 6 215 6.1 216.9 6.3 218.8 6.5 220.8 6.6 222.7 6.8 224.6 6.9 226.5 7.1 228.5 7.2 230.4 7.4 232.3 7.6 234.2 7.7 236.2 7.8 238.1 8 240 8.2 242.3 8.5 244.6 8.9 246.9 9.3 249.2 9.7 251.6 10.1 253.9 10.5 256.2 10.8 258.5 11.2 260.8 11.6 263.1 12 265.4 12.4 267.7 12.7 270 13.1 272.4 13.5 274.7 13.9 277 14.2 279.3 14.6 281.6 15 283.9 15.5 286.3 16.1 288.6 16.6 291.1 17.2 293.5 17.8 295.7 18.3 297.9 18.8 300 19.3 302.2 19.7 304.4 20.3 306.3 21 308.2 21.8 310 22.5 311.7 22.7 313.3 23.1 315 24.3 316.5 25.9 317.5 28.1 318 30.5 317.9 32.2 317.5 33.6 316.2 34.8 314.8 36.5 313.2 38.3 311.6 39.7 310.2 41.3 309.2 43.5 308.6 46 308.4 47.8 308.5 49.7 308.5 51.7 308.6 53.6 308.6 55.5 308.6 57.4 308.6 59.3 308.6 61.2 308.6 63.1 308.6 65 308.6 66.9 308.6 68.8 308.6 70.7 308.6 72.6 308.6 74.5 308.6 76.4 308.6 78.3 308.6 80.2 308.6 82.1 308.6 84 308.5 85.9 308.5 87.8 308.5 89.7 308.5 91.6 308.5 93.5 308.5 95.4 308.5 97.3 308.5 99.2 308.5 101.1 308.5 103 308.5 104.9 308.5 106.8 308.5 108.7 308.5 110.6 308.5 112.5 308.5 114.4 308.5 116.3 308.5 118.2 308.5 120.1 308.5 122 308.5 123.9 308.5 125.8 308.5 127.7 308.5 129.6 308.5 131.5 308.5 133.4 308.5 135.3 308.5 137.2 308.5 139.1 308.5 141 308.5 142.9 308.5 144.8 308.5 146.7 308.5 148.6 308.5 150.5 308.5 152.4 308.5 154.3 308.5 156.2 308.5 158.1 308.4 160 308.4 161.9 308.4 163.8 308.4 165.7 308.4 167.6 308.4 169.5 308.4 171.4 308.4 173.3 308.4 175.2 308.4 177.1 308.4 179 308.4 180.9 308.4 182.8 308.4 184.7 308.4 186.6 308.4 188.5 308.4 190.4 308.5 192.3 308.5 194.3 308.6 196.2 308.4 198 307.9 199.9 307.1 201.7 306.6 203.2 306.4 205 305.6 206.9 304.5 209 303.6 210.6 302.7 212.3 301.8 214 300.8 216.3 300 218.5 299.7 219.8 299.5 221.0" stroke="#0000ff" stroke-width="1.2" fill="none" stroke-linejoin="round" stroke-dasharray="1.17,3.5"/>
</g>
<g clip-path="url(#cr)">
<path d="M380 27.6 381.9 27.9 383.8 28.1 385.8 28.4 387.7 28.6 389.6 28.9 391.5 29.1 393.5 29.4 395.4 29.6 397.3 29.9 399.2 30.1 401.2 30.4 403.1 30.6 405 30.9 406.9 31.1 408.8 31.4 410.8 31.6 412.7 31.9 414.6 32.1 416.5 32.4 418.5 32.6 420.4 32.9 422.3 33.1 424.2 33.4 426.2 33.6 428.1 33.9 430 34.1 431.9 34.4 433.8 34.7 435.8 34.9 437.7 35.2 439.6 35.4 441.5 35.7 443.5 35.9 445.4 36.2 447.3 36.4 449.2 36.7 451.2 36.9 453.1 37.2 455 37.4 456.9 37.7 458.8 37.9 460.8 38.2 462.7 38.4 464.6 38.7 466.5 38.9 468.5 39.2 470.4 39.4 472.3 39.7 474.2 39.9 476.2 40.2 478.1 40.4 480 40.7 481.9 40.9 483.8 41.2 485.6 41.4 487.5 41.7 489.4 41.9 491.2 42.2 493.1 42.4 495 42.7 496.9 42.9 498.8 43.1 500.6 43.4 502.5 43.6 504.4 43.9 506.2 44.1 508.1 44.4 510 44.6 511.9 44.8 513.8 45.1 515.6 45.3 517.5 45.6 519.4 45.8 521.2 46.1 523.1 46.3 525 46.5 526.9 46.8 528.8 47 530.6 47.3 532.5 47.5 534.4 47.8 536.3 48 538.2 48.2 540 48.5 542.2 48.9 544.4 49.2 546.6 49.6 548.8 50 551.1 50.4 553.3 50.7 555.5 51.1 557.7 51.5 559.9 51.9 562.1 52.2 564.3 52.6 566.5 53 568.7 53.3 571 53.7 573.2 54.1 575.5 54.4 577.8 54.8 579.8 55.2 581.4 55.6 582.6 56.3 583.5 58.1 584.2 60.3 584.9 62.2 585.7 64.3 586.4 66.5 587 69 587.7 71.4 588.3 73.8 589 76.2 589.6 78.6 590 81 590.3 83.4 590.6 85.8 591 88.1 591.3 90.5 591.6 92.9 591.7 95.4 591.7 97.9 591.6 100.4 591.6 102.8 591.7 105.3 591.7 107.8 591.7 110.3 591.7 112.8 591.7 115.3 591.7 117.8 591.7 120.2 591.7 122.7 591.7 125.2 591.8 127.7 591.8 130.2 591.8 132.7 591.8 135.1 591.8 137.6 591.8 140.1 591.8 142.6 591.8 145.1 591.8 147.6 591.9 150.1 591.9 152.5 591.9 155 591.9 157.5 591.9 160 591.9 162.2 591.9 164.5 591.9 166.7 591.9 168.9 591.9 171.1 591.9 173.3 591.9 175.6 591.9 177.8 591.9 180 591.9 182.2 591.9 184.4 591.9 186.7 591.9 188.9 591.9 191.1 591.9 193.3 591.9 195.6 591.8 197.8 591.9 200 592.1 202 592.4 204 592.6 206 592.9 208 593.2 210.1 593.4 212 593.7 214.3 593.9 216.5 594.1 218.8 594.4 221.0" stroke="#ff0000" stroke-width="1.2" fill="none" stroke-linejoin="round"/>
<path d="M570.5 0 571 1.6 571.6 3.3 572.6 5.4 573.7 7.7 574.8 9.8 575.7 11.8 576.5 13.7 577.2 15.5 578.1 17.5 579.1 19.5 580.3 21.8 581.4 24 582.2 26.2 582.9 28.4 583.6 30.6 584.3 32.4 585 34.2 585.7 36 586.4 38.1 587.2 40.4 587.9 42.6 588.7 44.8 589.4 46.9 590.1 49.1 590.7 51.4 591.1 53.7 591.5 56 591.7 57.9 591.9 59.8 592 61.7 592.1 63.6 592.1 65.6 592.1 67.5 592.1 69.5 592.1 71.4 592.1 73.4 592.1 75.4 592.1 77.3 592.1 79.3 592.1 81.3 592.1 83.2 592.1 85.2 592.1 87.2 592.1 89.1 592.1 91.1 592.1 93.1 592.1 95 592.1 97.4 592.1 99.8 592.1 102.2 592.1 104.6 592.1 107 592.1 109.4 592.1 111.9 592.1 114.3 592.1 116.7 592.1 119.1 592.1 121.5 592.1 123.9 592.1 126.3 592 128.7 592 131.1 592 133.5 592 135.9 592 138.3 592 140.7 592 143.1 592 145.6 592 148 592 150.4 592 152.8 592 155.2 592 157.6 592 160 592 162.2 592 164.5 592 166.7 592 168.9 592 171.1 592 173.3 592 175.6 592 177.8 592 180 591.9 182.2 591.9 184.4 591.9 186.7 591.9 188.9 591.9 191.1 591.9 193.3 591.9 195.6 591.8 197.8 591.9 200 592.1 202 592.4 204 592.7 206 592.9 208 593.2 210.1 593.4 212 593.7 214.3 593.9 216.5 594.1 218.8 594.4 221.0" stroke="#ff0000" stroke-width="1.2" fill="none" stroke-linejoin="round" stroke-dasharray="7.1,7.1" stroke-dashoffset="10.36"/>
<path d="M380 53.7 382.4 53.9 384.8 54.1 387.1 54.3 389.5 54.5 391.9 54.7 394.3 54.9 396.7 55.1 399 55.3 401.4 55.5 403.8 55.7 406.2 55.9 408.6 56.1 411 56.3 413.4 56.4 415.7 56.7 417.7 57 419.7 57.5 421.6 57.9 423.6 58.3 425.6 58.7 427.6 59 429.6 59.4 431.6 59.8 433.5 60.2 435.5 60.6 437.5 61 439.5 61.4 441.7 61.9 444 62.3 446.2 62.8 448.5 63.3 450.8 63.7 453 64.2 455.2 64.7 457.5 65.1 459.7 65.6 462 66.1 464.2 66.5 466.5 67 468.8 67.5 471 67.9 473.2 68.4 475.5 68.9 477.7 69.4 480 69.8 482.4 70.1 484.8 70.4 487.3 70.7 489.7 71 492.1 71.3 494.5 71.6 497 71.9 499.4 72.2 501.8 72.5 504.2 72.8 506.7 73.1 509.1 73.4 511.5 73.7 513.9 74 516.4 74.3 518.8 74.6 521.2 75 523.6 75.3 526.1 75.6 528.5 75.9 530.9 76.2 533.3 76.5 535.8 76.8 538.2 77.1 540.6 77.4 543 77.7 545.5 78 547.9 78.3 550.3 78.6 552.7 78.9 555.2 79.2 557.6 79.4 560 79.8 562.4 80.3 564.8 80.8 567.1 81.4 569.5 81.9 571.9 82.4 574.3 82.9 576.7 83.3 579.2 83.7 581.4 84.5 583.2 86.1 584.8 88.1 586 90 586.8 91.9 587.4 93.8 588.2 95.6 588.8 97.6 589 99.5 589.1 101.7 589.1 103.8 589.2 105.8 589.3 107.9 589.4 110 589.4 112.4 589.4 114.9 589.4 117.3 589.4 119.8 589.5 122.2 589.5 124.7 589.5 127.1 589.5 129.6 589.5 132 589.5 134.4 589.5 136.9 589.5 139.3 589.5 141.8 589.6 144.2 589.6 146.7 589.6 149.1 589.6 151.6 589.6 154 589.6 156.4 589.6 158.9 589.6 161.3 589.6 163.8 589.7 166.2 589.7 168.7 589.7 171.1 589.7 173.6 589.7 176 589.7 178.4 589.7 180.9 589.7 183.3 589.7 185.8 589.8 188.2 589.8 190.7 589.7 193.1 589.7 195.6 589.8 198 590.3 200.4 590.9 202.7 591.6 205 592.2 207.4 592.9 209.8 593.4 212 593.7 214.3 593.9 216.5 594.1 218.8 594.4 221.0" stroke="#ff0000" stroke-width="1.2" fill="none" stroke-linejoin="round" stroke-dasharray="1.17,3.5"/>
<path d="M380 8.6 381.7 9.2 383.3 9.9 385 10.6 386.7 11.2 388.4 11.8 390 12.5 391.9 13.4 393.7 14.2 395.6 15.1 397.5 16 399.5 16.7 401.5 17.5 403.4 18.2 405.4 18.9 407.3 19.6 409.2 20.3 411.1 21 413 21.7 414.9 22.5 416.8 23.2 418.6 24 420.5 24.8 422.5 25.6 424.4 26.3 426.3 27 428.4 27.8 430.1 28.4 432 29.1 433.9 29.7 435.6 30.2 437.6 30.7 439.6 31.1 441.4 31.6 443.5 32.1 445.3 32.4 447.4 32.7 449.5 33 451.4 33.3 453.5 33.6 455.4 34 457.3 34.3 459.4 34.6 461.6 34.9 463.9 35.2 466.3 35.6 468.6 35.9 470.8 36.2 473.1 36.5 475.4 36.9 477.7 37.2 480 37.5 482 37.8 484 38.2 485.9 38.5 487.9 38.8 489.9 39.2 491.9 39.5 493.7 39.8 495.5 40 497.3 40.2 499.1 40.5 500.8 40.7 502.6 41 504.4 41.2 506.2 41.5 508 41.7 509.8 41.9 511.6 42.1 513.3 42.4 515.1 42.6 516.9 42.8 518.7 43 520.4 43.2 522.1 43.5 524 43.7 525.9 44 527.8 44.3 529.9 44.6 531.8 44.9 534.1 45.3 536.3 45.7 538.4 46.2 540.7 46.6 542.9 47 545.1 47.4 547.3 47.9 549.5 48.3 551.8 48.7 554 49.1 556.2 49.5 558.4 50 560.6 50.4 562.8 50.8 565 51.2 567.3 51.7 569.5 52.1 571.7 52.5 573.6 52.8 575.5 53.2 577.3 53.5 579.4 53.7 581.4 53.9 583 54.5 584.3 56.2 585.2 58.2 586.5 60 587.5 62 588 63.9 588.2 65.9 588.5 68 588.8 70 589.1 72 589.4 74 589.8 76 590.1 77.9 590.4 80 590.5 81.9 590.5 83.9 590.4 85.9 590.4 87.9 590.4 89.8 590.4 91.8 590.4 93.8 590.4 95.7 590.4 97.7 590.5 99.7 590.5 101.6 590.5 103.6 590.5 105.6 590.5 107.5 590.5 109.5 590.5 111.5 590.5 113.4 590.5 115.4 590.5 117.4 590.5 119.3 590.5 121.3 590.5 123.3 590.5 125.2 590.5 127.2 590.5 129.2 590.5 131.1 590.5 133.1 590.5 135.1 590.5 137 590.5 139 590.6 141 590.6 142.9 590.6 144.9 590.6 146.9 590.6 148.8 590.6 150.8 590.6 152.8 590.6 154.7 590.6 156.7 590.6 158.7 590.6 160.6 590.6 162.6 590.6 164.6 590.6 166.5 590.6 168.5 590.6 170.5 590.6 172.4 590.6 174.4 590.6 176.4 590.7 178.3 590.7 180.3 590.7 182.3 590.7 184.2 590.7 186.2 590.7 188.2 590.7 190.1 590.7 192.1 590.6 194.1 590.6 196.1 590.7 198 591.1 200.4 591.6 202.7 592 205 592.5 207.4 593 209.8 593.4 212 593.7 214.3 593.9 216.5 594.1 218.8 594.4 221.0" stroke="#ff0000" stroke-width="1.2" fill="none" stroke-linejoin="round" stroke-dasharray="3.5,5.9,1.17,5.9" stroke-dashoffset="16.22"/>
<path d="M399.5 0 400.7 1.2 402 2.3 403.8 3.3 406 4.1 408 4.9 410 5.6 411.9 6.3 413.7 7 415.7 7.7 417.6 8.4 419.6 9.1 421.6 9.8 423.6 10.5 425.6 11.2 427.6 11.9 429.6 12.5 431.6 13.1 433.6 13.7 435.5 14.3 437.5 14.9 439.5 15.5 441.3 16 443 16.5 444.8 17 446.5 17.5 448.2 18 450 18.5 451.8 19 453.7 19.5 455.6 20 457.5 20.5 459.4 21 461.2 21.5 463.1 22 465 22.5 466.9 23 468.7 23.4 470.6 23.9 472.5 24.4 474.4 24.8 476.2 25.3 478.1 25.7 480 26.2 481.9 26.7 483.9 27.1 485.8 27.6 487.8 28.1 489.7 28.6 491.6 29.1 493.6 29.5 495.5 30 497.4 30.4 499.2 30.8 501.1 31.3 503 31.7 504.8 32.1 506.7 32.5 508.6 32.9 510.4 33.3 512.3 33.8 514.2 34.2 516 34.6 517.9 35 520.4 35.5 522.8 35.9 525.3 36.3 527.7 36.7 530.2 37.2 532.6 37.6 535.1 38 537.6 38.4 540 38.9 542.4 39.4 544.7 40 547 40.6 549.4 41.2 551.7 41.8 554 42.4 556.4 42.9 558.7 43.5 561 44.1 563.4 44.7 565.7 45.3 568.1 45.8 570.4 46.4 572.7 47 575.1 47.6 577.5 48.2 579.9 48.7 582.1 49.3 584.3 49.9 586.3 50.5 588.6 50.9 590.5 51.7 591.5 53.6 592 56 592.3 57.7 592.6 59.7 592.8 61.7 593 63.6 593.2 66 593.2 68.5 593.3 70.9 593.4 73.3 593.5 75.7 593.6 78.2 593.7 80.6 593.9 83 594 85.4 594.1 87.9 594.2 90.3 594.3 92.7 594.4 95.1 594.5 97.6 594.6 100 594.6 101.9 594.6 103.7 594.6 105.6 594.6 107.5 594.6 109.4 594.7 111.2 594.7 113.1 594.7 115 594.7 116.9 594.7 118.8 594.7 120.6 594.7 122.5 594.7 124.4 594.7 126.2 594.7 128.1 594.8 130 594.8 131.9 594.8 133.8 594.8 135.6 594.8 137.5 594.8 139.4 594.8 141.2 594.8 143.1 594.8 145 594.8 146.9 594.8 148.8 594.9 150.6 594.9 152.5 594.9 154.4 594.9 156.3 594.9 158.2 594.9 160 594.9 162.3 594.9 164.5 595 166.7 595 168.9 595 171.1 595 173.3 595 175.6 595 177.8 595 180 595.1 182.2 595.1 184.4 595.1 186.7 595.1 188.9 595.1 191.1 595.2 193.3 595.2 195.5 595.2 197.8 595.2 200 595.2 202.3 595.2 204.7 595.2 207 595.2 209.3 595.3 211.7 595.3 214 595.3 216.3 595.3 218.7 595.3 221.0" stroke="#008000" stroke-width="1.2" fill="none" stroke-linejoin="round"/>
<path d="M586.6 0 586.8 1.6 587 3.3 587.3 5 587.6 6.8 587.9 8.7 588.2 10.6 588.4 12.6 588.7 14.5 589 16.4 589.4 18.3 589.7 20 590.1 21.8 590.5 24 590.8 26.2 591.2 28.4 591.8 30.6 592.4 32.7 592.9 34.9 593.1 36.8 593.2 38.7 593.3 40.7 593.4 42.6 593.7 44.8 594.2 47 594.5 49.1 594.7 50.9 594.8 52.7 595 54.6 595.1 56.3 595.3 58.1 595.4 60 595.4 62.3 595.4 64.7 595.4 67.1 595.4 69.5 595.4 71.9 595.4 74.3 595.4 76.7 595.4 79 595.4 81.4 595.4 83.8 595.5 86.2 595.5 88.6 595.5 91 595.5 93.3 595.5 95.7 595.5 98.1 595.5 100.5 595.5 102.9 595.5 105.2 595.5 107.6 595.5 110 595.5 111.9 595.5 113.7 595.5 115.6 595.5 117.5 595.5 119.4 595.5 121.3 595.5 123.1 595.5 125 595.5 126.9 595.5 128.8 595.5 130.6 595.5 132.5 595.5 134.4 595.5 136.2 595.5 138.1 595.5 140 595.5 141.9 595.5 143.8 595.5 145.6 595.5 147.5 595.5 149.4 595.5 151.2 595.5 153.1 595.5 155 595.5 156.9 595.5 158.8 595.5 160.6 595.5 162.5 595.5 164.4 595.5 166.2 595.5 168.1 595.5 170 595.5 171.9 595.5 173.8 595.5 175.6 595.5 177.5 595.5 179.4 595.5 181.2 595.5 183.1 595.5 185 595.5 186.9 595.5 188.8 595.5 190.6 595.5 192.5 595.5 194.4 595.5 196.3 595.5 198.1 595.5 200 595.5 202.4 595.5 204.7 595.4 207 595.4 209.3 595.4 211.7 595.4 214 595.3 216.3 595.3 218.7 595.3 221.0" stroke="#008000" stroke-width="1.2" fill="none" stroke-linejoin="round" stroke-dasharray="7.1,7.1" stroke-dashoffset="11.61"/>
<path d="M380 49.4 382.4 49.5 384.8 49.7 387.1 49.8 389.5 49.9 391.9 50.1 394.3 50.2 396.7 50.3 399 50.5 401.4 50.6 403.8 50.7 406.2 50.9 408.6 51 411 51.1 413.4 51.2 415.7 51.4 417.7 51.7 419.7 52.1 421.6 52.4 423.6 52.8 425.6 53.1 427.6 53.5 429.6 53.8 431.6 54.1 433.6 54.5 435.5 54.8 437.5 55.1 439.5 55.5 441.7 55.9 444 56.4 446.3 56.9 448.5 57.3 450.8 57.8 453 58.3 455.2 58.7 457.5 59.2 459.7 59.6 462 60.1 464.2 60.6 466.5 61 468.8 61.5 471 62 473.2 62.4 475.5 62.9 477.7 63.4 480 63.8 482.4 64.1 484.8 64.4 487.3 64.6 489.7 64.9 492.1 65.1 494.5 65.4 497 65.7 499.4 65.9 501.8 66.2 504.2 66.5 506.7 66.7 509.1 67 511.5 67.3 513.9 67.5 516.4 67.8 518.8 68.1 521.2 68.3 523.6 68.6 526.1 68.9 528.5 69.1 530.9 69.4 533.3 69.7 535.8 69.9 538.2 70.2 540.6 70.5 543 70.7 545.5 71 547.9 71.3 550.3 71.5 552.7 71.8 555.2 72 557.6 72.3 560 72.6 562 73 564 73.6 566 74.1 567.9 74.6 569.9 75.1 571.9 75.6 573.9 76.1 575.9 76.6 577.8 77.1 579.9 77.5 582 77.8 583.8 78.6 585 79.9 585.9 81.6 586.8 83.3 587.9 84.8 589 86.4 589.8 88 590.3 89.9 590.5 92 590.6 94 591 96 591.3 97.9 591.5 100 591.6 101.9 591.6 103.8 591.6 105.7 591.6 107.7 591.6 109.6 591.7 111.5 591.7 113.5 591.7 115.4 591.8 117.3 591.8 119.2 591.8 121.2 591.8 123.1 591.9 125 591.9 126.9 591.9 128.8 592 130.8 592 132.7 592 134.6 592 136.5 592.1 138.5 592.1 140.4 592.1 142.3 592.2 144.2 592.2 146.2 592.2 148.1 592.2 150 592.3 151.9 592.3 153.8 592.3 155.8 592.4 157.7 592.4 159.6 592.4 161.5 592.5 163.5 592.5 165.4 592.5 167.3 592.5 169.2 592.6 171.2 592.6 173.1 592.6 175 592.7 176.9 592.7 178.8 592.7 180.8 592.7 182.7 592.8 184.6 592.8 186.5 592.8 188.5 592.9 190.4 592.9 192.3 592.9 194.3 592.9 196.2 592.9 198.1 593 200 593.2 202.1 593.5 204 593.8 206 594.1 208 594.4 210.1 594.6 212 594.8 214.3 595 216.5 595.1 218.8 595.3 221.0" stroke="#008000" stroke-width="1.2" fill="none" stroke-linejoin="round" stroke-dasharray="1.17,3.5"/>
<path d="M380 11.1 381.9 11.3 383.8 11.6 385.6 11.8 387.6 12 389.5 12.3 391.3 12.5 393.4 12.9 395.5 13.2 397.5 13.6 399.6 14 401.7 14.3 403.7 14.5 405.7 14.7 407.8 15 410.1 15.5 412.6 16.1 415.1 16.7 417.2 17.1 419.3 17.4 421.3 17.6 423.4 18 425.5 18.3 427.6 18.6 429.6 18.9 431.7 19.2 433.8 19.6 435.8 19.9 437.9 20.2 440 20.5 441.8 20.8 443.7 21.2 445.6 21.6 447.5 21.9 449.4 22.3 451.2 22.6 453.1 23 455 23.4 456.9 23.7 458.8 24.1 460.6 24.4 462.5 24.8 464.4 25.1 466.3 25.5 468.2 25.9 470 26.2 472.3 26.6 474.5 27 476.8 27.3 479 27.7 481.3 28.1 483.5 28.4 485.8 28.8 488 29.2 490.3 29.6 492.5 29.9 494.8 30.3 497 30.7 499.3 31.1 501.6 31.4 503.8 31.8 505.6 32.1 507.4 32.4 509.2 32.7 511 33 512.8 33.3 514.6 33.6 516.4 33.9 518.2 34.2 520 34.5 522.2 34.9 524.4 35.4 526.7 35.8 528.9 36.3 531.1 36.7 533.3 37.2 535.6 37.6 537.8 38 540 38.5 542.3 39.1 544.7 39.7 547 40.3 549.4 40.9 551.7 41.6 554 42.2 556.4 42.8 558.7 43.4 561 44 563.4 44.6 565.7 45.2 568.1 45.8 570.4 46.4 572.7 47.1 575.1 47.7 577.5 48.3 579.9 48.9 582.1 49.5 584.3 50.1 586.3 50.8 588.6 51.2 590.5 52 591.1 53.5 591.3 55.5 591.5 57.5 591.8 59.3 592.1 61.1 592.4 63 592.6 65.4 592.7 67.9 592.8 70.4 593 72.9 593.1 75.3 593.2 77.8 593.4 80.3 593.5 82.7 593.7 85.2 593.8 87.7 593.9 90.1 594.1 92.6 594.2 95.1 594.4 97.5 594.5 100 594.5 101.9 594.6 103.8 594.5 105.8 594.6 107.7 594.6 109.6 594.6 111.5 594.6 113.5 594.6 115.4 594.6 117.3 594.6 119.2 594.6 121.2 594.7 123.1 594.7 125 594.7 126.9 594.7 128.8 594.7 130.8 594.7 132.7 594.7 134.6 594.8 136.5 594.8 138.5 594.8 140.4 594.8 142.3 594.8 144.2 594.8 146.2 594.8 148.1 594.9 150 594.9 151.9 594.9 153.8 594.9 155.8 594.9 157.7 594.9 159.6 594.9 161.5 594.9 163.5 595 165.4 595 167.3 595 169.2 595 171.2 595 173.1 595 175 595 176.9 595.1 178.8 595.1 180.8 595.1 182.7 595.1 184.6 595.1 186.5 595.1 188.5 595.1 190.4 595.1 192.3 595.2 194.2 595.2 196.2 595.2 198.1 595.2 200 595.2 202.4 595.2 204.7 595.2 207 595.2 209.3 595.3 211.7 595.3 214 595.3 216.3 595.3 218.7 595.3 221.0" stroke="#008000" stroke-width="1.2" fill="none" stroke-linejoin="round" stroke-dasharray="3.5,5.9,1.17,5.9" stroke-dashoffset="6.30"/>
<path d="M380 5.2 382.2 5.4 384.4 5.7 386.7 5.9 388.9 6.2 391.1 6.4 393.3 6.6 395.6 6.9 397.8 7.1 400 7.3 402.2 7.6 404.4 7.8 406.7 8.1 408.9 8.3 411.1 8.5 413.3 8.8 415.5 9 417.7 9.3 420 9.5 421.8 9.7 423.7 9.9 425.6 10.1 427.5 10.4 429.4 10.6 431.2 10.8 433.1 11 435 11.2 436.9 11.4 438.8 11.6 440.6 11.8 442.5 12.1 444.4 12.3 446.2 12.5 448.1 12.7 450 12.9 451.9 13.1 453.8 13.3 455.6 13.5 457.5 13.8 459.4 14 461.2 14.2 463.1 14.4 465 14.6 466.9 14.8 468.8 15 470.6 15.2 472.5 15.4 474.4 15.7 476.2 15.9 478.1 16.1 480 16.3 481.9 16.5 483.7 16.7 485.6 16.9 487.5 17.1 489.4 17.3 491.2 17.5 493.1 17.7 495 17.9 496.9 18.1 498.8 18.3 500.6 18.5 502.5 18.7 504.4 18.9 506.2 19.1 508.1 19.3 510 19.6 511.9 19.8 513.8 20 515.6 20.2 517.5 20.4 519.4 20.6 521.2 20.8 523.1 21 525 21.2 526.9 21.4 528.8 21.6 530.6 21.8 532.5 22 534.4 22.2 536.3 22.4 538.2 22.6 540 22.8 542.3 23 544.5 23.2 546.7 23.4 548.9 23.6 551.1 23.8 553.3 24 555.6 24.2 557.8 24.4 560 24.6 562.2 24.9 564.4 25.2 566.7 25.5 568.9 25.8 571.1 26.1 573.3 26.4 575.6 26.7 577.8 27 580 27.3 582.2 27.7 584.3 28.1 586.5 28.6 588.7 28.9 590.9 29.3 593 29.8 594.6 30.5 596 31.3 597.5 32.1 599.1 32.9 600.6 33.6 602 34.5 603.5 36.1 604.8 37.8 606.2 39.3 607.5 41 608.5 43.2 609.3 45.7 610 48 610.4 50.1 610.8 52 611.1 54 611.5 56 611.9 58.2 612.4 60.5 612.8 62.7 613.2 65 613.3 66.8 613.3 68.8 613.3 70.9 613.3 72.9 613.3 74.9 613.3 76.9 613.3 78.9 613.3 80.8 613.4 82.8 613.4 84.8 613.4 86.8 613.4 88.8 613.4 90.7 613.4 92.7 613.5 94.7 613.5 96.7 613.5 98.6 613.5 100.6 613.5 102.6 613.5 104.6 613.5 106.6 613.6 108.5 613.6 110.5 613.6 112.5 613.6 114.5 613.6 116.5 613.7 118.4 613.7 120.4 613.7 122.4 613.7 124.4 613.7 126.4 613.7 128.3 613.8 130.3 613.8 132.3 613.8 134.3 613.8 136.2 613.8 138.2 613.8 140.2 613.8 142.2 613.9 144.2 613.9 146.1 613.9 148.1 613.9 150.1 613.9 152.1 614 154.1 614 156.1 614 158.1 614 160 614 162.3 614 164.5 614 166.7 614 168.9 614 171.1 614 173.3 614 175.5 613.9 177.8 613.9 180 613.9 182.2 613.9 184.4 613.9 186.6 613.8 188.9 613.6 191.2 613.9 193.3 614.7 194.9 615.8 196.5 617.2 197.9 618.5 199.3 620.2 200.8 622.1 202.2 624 203.5 626.1 204.9 628.2 206.2 630.2 207.6 632 208.9 633.8 210.1 635.4 211.5 637 212.9 638.5 214.4 639.6 216 640.2 217.6 640.4 219.3 640.7 221.0" stroke="#bf00bf" stroke-width="1.2" fill="none" stroke-linejoin="round"/>
<path d="M606.5 0 606.8 1.8 607.2 3.6 607.6 5.5 608.3 7.6 609.1 9.8 609.8 12 610.2 13.9 610.5 15.8 610.7 17.8 610.9 19.7 611.1 21.9 611.2 24 611.3 26.2 611.4 28.1 611.4 30 611.5 31.9 611.5 33.8 611.6 36 611.6 38.2 611.7 40.4 611.8 42.3 611.9 44.3 612 46.2 612.2 48.2 612.3 50.2 612.4 52.2 612.5 54.2 612.6 56 612.9 58.3 613.2 60.5 613.5 62.7 613.7 65 613.8 66.8 613.8 68.8 613.7 70.8 613.7 72.8 613.7 74.8 613.7 76.7 613.7 78.7 613.7 80.6 613.7 82.6 613.7 84.5 613.8 86.5 613.8 88.4 613.8 90.4 613.8 92.3 613.8 94.3 613.8 96.2 613.8 98.2 613.8 100.2 613.8 102.1 613.8 104.1 613.8 106 613.8 108 613.8 109.9 613.8 111.9 613.8 113.8 613.8 115.8 613.8 117.7 613.8 119.7 613.8 121.6 613.8 123.6 613.8 125.5 613.9 127.5 613.9 129.5 613.9 131.4 613.9 133.4 613.9 135.3 613.9 137.3 613.9 139.2 613.9 141.2 613.9 143.1 613.9 145.1 613.9 147 613.9 149 613.9 150.9 613.9 152.9 613.9 154.8 613.9 156.8 613.9 158.8 613.9 160.7 613.9 162.7 613.9 164.6 613.9 166.6 613.9 168.5 614 170.5 614 172.4 614 174.4 614 176.3 614 178.3 614 180.2 614 182.2 614 184.2 614 186.3 614 188.3 614 190 613.8 191.7 613.9 193.3 614.6 194.8 615.8 196.3 617.1 197.9 618.5 199.3 620.2 200.8 622.1 202.2 624 203.5 626.1 204.9 628.2 206.2 630.2 207.6 632 208.9 633.8 210.1 635.4 211.5 637 212.9 638.5 214.4 639.6 216 640.2 217.6 640.4 219.3 640.7 221.0" stroke="#bf00bf" stroke-width="1.2" fill="none" stroke-linejoin="round" stroke-dasharray="7.1,7.1" stroke-dashoffset="8.27"/>
<path d="M380 41.8 382.4 41.9 384.8 42 387.1 42 389.5 42.1 391.9 42.2 394.3 42.3 396.7 42.4 399 42.4 401.4 42.5 403.8 42.6 406.2 42.7 408.6 42.8 411 42.9 413.3 42.9 415.7 43 418.1 43.1 420.5 43.2 422.9 43.3 425.2 43.3 427.6 43.4 430 43.5 432.4 43.6 434.8 43.7 437.1 43.9 439.5 44 441.9 44.1 444.3 44.2 446.7 44.3 449 44.5 451.4 44.6 453.8 44.7 456.2 44.8 458.6 44.9 461 45 463.3 45.2 465.7 45.3 468.1 45.4 470.5 45.5 472.9 45.6 475.2 45.8 477.6 45.9 480 46 481.9 46.1 483.7 46.2 485.6 46.4 487.5 46.5 489.4 46.6 491.2 46.7 493.1 46.9 495 47 496.9 47.1 498.8 47.2 500.6 47.4 502.5 47.5 504.4 47.6 506.2 47.7 508.1 47.9 510 48 511.9 48.1 513.8 48.2 515.6 48.4 517.5 48.5 519.4 48.6 521.2 48.8 523.1 48.9 525 49 526.9 49.1 528.8 49.2 530.6 49.4 532.5 49.5 534.4 49.6 536.2 49.8 538.1 49.9 540 50 541.9 50.1 543.7 50.2 545.6 50.3 547.5 50.4 549.4 50.5 551.2 50.6 553.1 50.7 555 50.8 556.9 50.8 558.8 50.9 560.6 51 562.5 51.1 564.4 51.2 566.4 51.2 568.2 51.3 570 51.5 571.8 52 573.4 52.6 575 53.2 576.7 53.8 578.4 54.3 580 55 581.5 56 582.9 57.2 584.3 58.4 585.7 59.6 587.2 60.7 588.6 61.8 590.5 63 592.3 64.2 594.2 65.3 596 66.5 597.8 67.6 599.6 68.8 601.5 69.8 603.2 71 604.6 72.6 605.9 74.3 607.3 76 608.6 77.7 609.3 79.6 609.9 81.5 610.6 83.4 611.2 85.3 611.6 87.7 612 90.2 612.4 92.5 612.8 95 612.9 96.8 612.9 98.8 612.9 100.9 612.9 102.9 612.9 104.9 612.9 106.9 612.9 108.9 612.9 110.8 612.9 112.8 612.9 114.8 613 116.8 613 118.7 613 120.7 613 122.7 613 124.7 613 126.7 613 128.6 613.1 130.6 613.1 132.6 613.1 134.6 613.1 136.6 613.1 138.5 613.1 140.5 613.1 142.5 613.2 144.5 613.2 146.5 613.2 148.4 613.2 150.4 613.2 152.4 613.2 154.4 613.3 156.4 613.3 158.3 613.3 160.3 613.3 162.3 613.3 164.3 613.3 166.2 613.3 168.2 613.4 170.2 613.4 172.2 613.4 174.2 613.4 176.1 613.4 178.1 613.4 180.1 613.4 182.1 613.4 184.1 613.4 186.3 613.4 188.3 613.5 190 613.6 191.7 613.9 193.3 614.7 194.8 615.8 196.3 617.2 197.9 618.5 199.3 620.2 200.8 622.1 202.2 624 203.5 626.1 204.9 628.2 206.2 630.2 207.6 632 208.9 633.8 210.1 635.4 211.5 637 212.9 638.5 214.4 639.6 216 640.2 217.6 640.4 219.3 640.7 221.0" stroke="#bf00bf" stroke-width="1.2" fill="none" stroke-linejoin="round" stroke-dasharray="1.17,3.5"/>
<path d="M380 14.6 382.4 14.8 384.7 15 387.1 15.2 389.1 15.4 391.1 15.7 393.1 15.9 394.9 16.1 397.1 16.3 399 16.5 401 16.7 403.2 16.9 405 17.1 407 17.4 409 17.7 411 17.9 413.2 18.1 415.4 18.3 417.5 18.5 419.7 18.7 421.8 18.9 424 19.1 426.2 19.3 428.3 19.6 430.5 19.8 432.7 20 434.8 20.2 437 20.4 439.1 20.6 441.3 20.8 443.5 21 445.4 21.2 447.4 21.4 449.4 21.6 451.5 21.8 453.5 22 455.5 22.2 457.5 22.4 459.4 22.6 461.2 22.8 463 23 464.7 23.2 466.4 23.4 468.2 23.6 470 23.8 471.8 24 473.8 24.2 475.8 24.4 477.8 24.6 479.7 24.8 481.7 25 483.6 25.2 485.6 25.4 487.5 25.6 489.4 25.8 491.4 26 493.3 26.2 495.3 26.4 497.2 26.6 499.2 26.8 501.1 27 503.1 27.2 505 27.5 506.9 27.7 508.9 27.9 510.8 28.1 512.8 28.3 514.7 28.5 516.7 28.7 518.6 28.9 520.6 29.1 522.5 29.3 524.4 29.5 526.4 29.7 528.3 29.9 530.3 30.1 532.2 30.3 534.2 30.5 536.2 30.7 538.2 30.9 540 31.1 541.8 31.4 543.6 31.6 545.3 31.9 547.1 32.2 548.8 32.4 550.6 32.7 552.3 33 554.1 33.2 555.9 33.5 557.8 33.8 559.8 34.1 561.8 34.4 563.8 34.7 565.8 35 567.9 35.3 569.8 35.6 571.7 35.9 573.5 36.3 575.3 36.8 577 37.2 578.8 37.6 580.5 38.1 582.3 38.5 584.1 38.9 585.8 39.3 587.6 39.8 589.7 40.6 591.8 41.6 594 42.6 596.1 43.5 598.3 44.4 600.3 45.4 601.7 46.4 603 47.5 604.3 48.5 605.7 49.5 607.1 50.5 608.3 51.7 609.1 53.3 609.7 55.1 610.3 56.8 611 58.5 611.7 60.2 612.3 62 612.6 64 612.7 66 612.7 68 612.9 70 613 72 613.2 74 613.3 76 613.5 77.9 613.6 80 613.6 81.9 613.6 83.9 613.6 85.9 613.6 87.9 613.6 89.8 613.6 91.8 613.6 93.7 613.6 95.7 613.6 97.7 613.6 99.6 613.6 101.6 613.6 103.6 613.6 105.5 613.6 107.5 613.7 109.5 613.7 111.4 613.7 113.4 613.7 115.4 613.7 117.3 613.7 119.3 613.7 121.2 613.7 123.2 613.7 125.2 613.7 127.1 613.7 129.1 613.7 131.1 613.7 133 613.7 135 613.7 137 613.7 138.9 613.7 140.9 613.7 142.9 613.7 144.8 613.7 146.8 613.7 148.8 613.7 150.7 613.7 152.7 613.7 154.6 613.7 156.6 613.7 158.6 613.7 160.5 613.8 162.5 613.8 164.5 613.8 166.4 613.8 168.4 613.8 170.4 613.8 172.3 613.8 174.3 613.8 176.2 613.8 178.2 613.8 180.2 613.8 182.1 613.8 184.2 613.8 186.3 613.8 188.3 613.8 190 613.7 191.7 613.9 193.3 614.6 194.8 615.8 196.3 617.1 197.9 618.5 199.3 620.2 200.8 622.1 202.2 624 203.5 626.1 204.9 628.2 206.2 630.2 207.6 632 208.9 633.8 210.1 635.4 211.5 637 212.9 638.5 214.4 639.6 216 640.2 217.6 640.4 219.3 640.7 221.0" stroke="#bf00bf" stroke-width="1.2" fill="none" stroke-linejoin="round" stroke-dasharray="3.5,5.9,1.17,5.9" stroke-dashoffset="5.26"/>
<path d="M530 2 532.2 2 534.3 2.1 536.5 2.2 538.7 2.2 540.8 2.2 543 2.3 545.2 2.3 547.3 2.4 549.5 2.5 551.7 2.5 554 2.5 556 2.6 558 2.8 560 3.2 562.1 3.6 564.4 4.1 566.7 4.7 568.9 5.2 571.1 5.6 573.3 6.1 575.6 6.6 577.8 7.1 580 7.6 582.2 8.1 584.4 8.6 586.7 9 588.9 9.5 591.1 10 593.3 10.5 595.5 11 597.7 11.4 600 11.9 601.8 12.2 603.7 12.5 605.6 12.8 607.5 13.1 609.4 13.4 611.3 13.7 613.2 14 615 14.3 617 14.7 619 15.1 621 15.5 622.9 15.9 624.9 16.3 626.9 16.6 628.9 17 630.9 17.4 632.8 17.8 634.9 18.2 636.9 18.5 638.8 19 640.7 19.9 642.4 20.8 644.2 21.6 646 22.6 647.2 23.8 648.5 25.3 649.7 26.9 650.7 28.6 651.6 30.3 652.3 32.1 652.9 33.9 653.3 35.7 653.5 37.7 653.5 39.8 653.5 41.8 653.5 43.8 653.6 45.8 653.6 47.8 653.7 49.9 653.8 51.9 653.8 53.9 653.9 55.9 654 57.9 654 60 654 61.8 654 63.7 654 65.6 654 67.5 654 69.4 654 71.2 654 73.1 654 75 654 76.9 654 78.8 654 80.6 654 82.5 654.1 84.4 654.1 86.2 654.1 88.1 654.1 90 654.1 91.9 654.1 93.8 654.1 95.6 654.1 97.5 654.1 99.4 654.1 101.2 654.1 103.1 654.1 105 654.1 106.9 654.1 108.8 654.1 110.6 654.1 112.5 654.1 114.4 654.1 116.2 654.1 118.1 654.1 120 654.1 121.9 654.1 123.8 654.1 125.6 654.2 127.5 654.2 129.4 654.2 131.2 654.2 133.1 654.2 135 654.2 136.9 654.2 138.8 654.2 140.6 654.2 142.5 654.2 144.4 654.2 146.3 654.2 148.1 654.2 150 654.2 152.4 654.2 154.8 654.2 157.1 654.2 159.5 654.2 161.9 654.2 164.3 654.2 166.7 654.2 169 654.2 171.4 654.2 173.8 654.1 176.2 654.1 178.6 654.1 181 654.1 183.3 654.1 185.7 654.1 188.1 654.1 190.5 654.1 192.9 654.1 195.3 654 197.7 654.1 200 654.3 201.7 654.5 203.4 654.8 205 655 206.7 655.2 208.3 655.4 210 655.7 211.8 656.1 213.7 656.4 215.5 656.7 217.3 657.1 219.2 657.4 221.0" stroke="#0000ff" stroke-width="1.2" fill="none" stroke-linejoin="round"/>
<path d="M652.3 0 652.3 2.2 652.3 4.4 652.3 6.6 652.5 8.8 652.7 10.9 652.9 13.1 653 15.3 653.1 17.5 653.2 19.7 653.3 21.9 653.3 24 653.4 26.2 653.5 28.1 653.5 30 653.6 31.9 653.6 33.8 653.6 36 653.7 38.2 653.7 40.3 653.7 42.5 653.8 44.7 653.8 46.9 653.8 49.1 653.9 51.3 653.9 53.5 653.9 55.6 654 57.8 654 60 654 61.8 654 63.7 654 65.6 654 67.5 654 69.4 654 71.2 654 73.1 654 75 654 76.9 654 78.8 654 80.6 654 82.5 654 84.4 654 86.2 654 88.1 654 90 654 91.9 654 93.8 654 95.6 654 97.5 654 99.4 654 101.2 654 103.1 654 105 654.1 106.9 654.1 108.8 654.1 110.6 654.1 112.5 654.1 114.4 654.1 116.2 654.1 118.1 654.1 120 654.1 121.9 654.1 123.8 654.1 125.6 654.1 127.5 654.1 129.4 654.1 131.2 654.1 133.1 654.1 135 654.1 136.9 654.1 138.8 654.1 140.6 654.1 142.5 654.1 144.4 654.1 146.3 654.1 148.1 654.1 150 654.1 152.4 654.1 154.8 654.1 157.1 654.1 159.5 654.1 161.9 654.1 164.3 654.1 166.7 654.1 169 654.1 171.4 654.1 173.8 654.1 176.2 654.1 178.6 654.1 181 654.1 183.3 654.1 185.7 654.1 188.1 654.1 190.5 654.1 192.9 654.1 195.3 654 197.7 654.1 200 654.3 201.7 654.5 203.4 654.8 205 655 206.7 655.2 208.3 655.4 210 655.7 211.8 656.1 213.7 656.4 215.5 656.7 217.3 657.1 219.2 657.4 221.0" stroke="#0000ff" stroke-width="1.2" fill="none" stroke-linejoin="round" stroke-dasharray="7.1,7.1" stroke-dashoffset="0.77"/>
<path d="M380 32.2 381.9 32.3 383.8 32.4 385.8 32.5 387.7 32.5 389.6 32.6 391.5 32.7 393.5 32.8 395.4 32.9 397.3 33 399.2 33.1 401.2 33.2 403.1 33.2 405 33.3 406.9 33.4 408.8 33.5 410.8 33.6 412.7 33.7 414.6 33.8 416.5 33.8 418.5 33.9 420.4 34 422.3 34.1 424.2 34.2 426.2 34.3 428.1 34.4 430 34.5 431.9 34.5 433.8 34.6 435.8 34.7 437.7 34.8 439.6 34.9 441.5 35 443.5 35.1 445.4 35.1 447.3 35.2 449.2 35.3 451.2 35.4 453.1 35.5 455 35.6 456.9 35.7 458.8 35.7 460.8 35.8 462.7 35.9 464.6 36 466.5 36.1 468.5 36.2 470.4 36.3 472.3 36.4 474.2 36.4 476.2 36.5 478.1 36.6 480 36.7 481.9 36.8 483.8 36.8 485.6 36.9 487.5 37 489.4 37 491.2 37.1 493.1 37.2 495 37.2 496.9 37.3 498.8 37.4 500.6 37.5 502.5 37.5 504.4 37.6 506.2 37.7 508.1 37.7 510 37.8 511.9 37.9 513.8 37.9 515.6 38 517.5 38.1 519.4 38.1 521.2 38.2 523.1 38.3 525 38.3 526.9 38.4 528.8 38.5 530.6 38.6 532.5 38.6 534.4 38.7 536.2 38.8 538.1 38.8 540 38.9 542 38.9 543.9 39 545.9 39 547.9 39 549.8 39.1 551.8 39.1 553.8 39.1 555.7 39.2 557.7 39.2 559.6 39.2 561.6 39.3 563.6 39.3 565.5 39.3 567.5 39.3 569.5 39.4 571.4 39.4 573.4 39.4 575.4 39.5 577.3 39.5 579.3 39.5 581.2 39.6 583.2 39.6 585.2 39.6 587.1 39.7 589.1 39.7 591.1 39.7 593.1 39.7 595 39.8 597.3 40 599.5 40.2 601.7 40.4 603.9 40.6 606.1 40.9 608.3 41.1 610.6 41.3 612.8 41.5 615 41.7 617.1 41.9 619.2 42.2 621.3 42.5 623.4 42.7 625.6 43 627.7 43.2 629.8 43.5 631.9 43.7 634 44 636.4 44.5 638.8 45.2 641.2 45.8 643.7 46.2 646.2 46.7 648.3 47.6 650 49.3 651.3 51.4 652.2 53.6 652.6 55.5 652.6 57.4 652.7 59.3 652.9 61.2 653.1 63 653.2 65 653.2 66.8 653.2 68.8 653.2 70.7 653.2 72.6 653.2 74.6 653.2 76.5 653.2 78.4 653.2 80.3 653.2 82.2 653.2 84.1 653.2 86 653.2 87.9 653.2 89.9 653.2 91.8 653.2 93.7 653.2 95.6 653.2 97.5 653.2 99.4 653.2 101.3 653.2 103.2 653.2 105.1 653.2 107.1 653.2 109 653.2 110.9 653.2 112.8 653.2 114.7 653.2 116.6 653.2 118.5 653.2 120.4 653.2 122.4 653.2 124.3 653.2 126.2 653.2 128.1 653.2 130 653.2 131.9 653.2 133.8 653.2 135.7 653.2 137.6 653.2 139.6 653.2 141.5 653.2 143.4 653.2 145.3 653.2 147.2 653.2 149.1 653.2 151 653.2 152.9 653.2 154.9 653.2 156.8 653.2 158.7 653.2 160.6 653.2 162.5 653.2 164.4 653.2 166.3 653.2 168.2 653.2 170.1 653.2 172.1 653.2 174 653.2 175.9 653.2 177.8 653.2 179.7 653.2 181.6 653.2 183.5 653.2 185.4 653.2 187.4 653.2 189.3 653.1 191.2 653.1 193.1 653.2 195 653.4 196.9 653.7 198.8 654 200.6 654.3 202.5 654.6 204.4 654.8 206.3 655.1 208.2 655.4 210 655.7 211.9 656.1 213.7 656.4 215.5 656.7 217.3 657.1 219.2 657.4 221.0" stroke="#0000ff" stroke-width="1.2" fill="none" stroke-linejoin="round" stroke-dasharray="1.17,3.5"/>
<path d="M515 1.8 517.1 2 519.2 2.1 521.3 2.3 523.4 2.5 525.5 2.6 527.6 2.8 529.8 3 531.9 3.1 533.9 3.3 536 3.6 538 3.9 540 4.1 542 4.4 544 4.6 546.1 4.8 548.1 5 550.2 5.3 552 5.7 554 6.1 556 6.6 557.8 7 559.9 7.4 561.9 7.7 563.9 8 566 8.4 567.8 8.7 569.7 9.1 571.7 9.5 573.6 9.9 575.4 10.2 577.1 10.5 578.9 10.8 580.6 11.1 582.4 11.5 584.1 11.8 585.9 12.1 587.7 12.4 589.4 12.7 591.4 13.1 593.3 13.5 595.3 13.9 597.3 14.3 599.2 14.6 601.2 14.8 603.2 15.1 605.2 15.4 607.1 15.6 609.1 15.9 611.1 16.1 613 16.3 615 16.7 616.7 17.2 618.5 17.8 620.3 18.4 622.1 19.1 623.9 19.7 625.7 20.2 627.5 20.8 629.3 21.4 631.1 22 632.9 22.5 634.7 23.1 636.4 23.8 638.4 24.9 640.4 26.2 642.3 27.4 644.5 28.5 646.6 29.7 648.3 31 649.5 33.2 650.4 35.5 651.6 37.7 652.5 40 652.8 42.1 652.8 44.4 652.8 46.7 652.9 48.9 653 51.1 653.1 53.3 653.2 55.5 653.3 57.7 653.4 60 653.4 61.9 653.4 63.9 653.4 65.9 653.4 67.9 653.4 69.9 653.4 71.9 653.4 73.9 653.4 75.9 653.4 77.9 653.4 79.9 653.4 81.8 653.4 83.8 653.4 85.8 653.4 87.8 653.4 89.8 653.4 91.8 653.4 93.8 653.4 95.7 653.4 97.7 653.4 99.7 653.4 101.7 653.4 103.7 653.4 105.7 653.4 107.6 653.4 109.6 653.4 111.6 653.4 113.6 653.4 115.6 653.4 117.6 653.4 119.6 653.4 121.5 653.4 123.5 653.4 125.5 653.5 127.5 653.5 129.5 653.5 131.5 653.5 133.5 653.5 135.4 653.5 137.4 653.5 139.4 653.5 141.4 653.5 143.4 653.5 145.4 653.5 147.4 653.5 149.3 653.5 151.3 653.5 153.3 653.5 155.3 653.5 157.3 653.5 159.3 653.5 161.3 653.5 163.2 653.5 165.2 653.5 167.2 653.5 169.2 653.5 171.2 653.5 173.2 653.5 175.1 653.5 177.1 653.5 179.1 653.5 181.1 653.5 183.1 653.5 185.1 653.5 187.1 653.5 189.1 653.4 191 653.4 193 653.5 195 653.7 196.9 653.9 198.8 654.2 200.6 654.5 202.5 654.7 204.4 654.9 206.3 655.1 208.2 655.4 210 655.7 211.9 656.1 213.7 656.4 215.5 656.7 217.3 657.1 219.2 657.4 221.0" stroke="#0000ff" stroke-width="1.2" fill="none" stroke-linejoin="round" stroke-dasharray="3.5,5.9,1.17,5.9"/>
</g>
<path d="M52.25 219.4v-2M52.25 1.4v2M58.16 219.4v-2M58.16 1.4v2M62.35 219.4v-2M62.35 1.4v2M65.6 219.4v-4M65.6 1.4v4M75.7 219.4v-2M75.7 1.4v2M85.79 219.4v-2M85.79 1.4v2M91.7 219.4v-2M91.7 1.4v2M95.89 219.4v-2M95.89 1.4v2M99.14 219.4v-4M99.14 1.4v4M109.24 219.4v-2M109.24 1.4v2M119.33 219.4v-2M119.33 1.4v2M125.24 219.4v-2M125.24 1.4v2M129.43 219.4v-2M129.43 1.4v2M132.68 219.4v-4M132.68 1.4v4M142.78 219.4v-2M142.78 1.4v2M152.87 219.4v-2M152.87 1.4v2M158.78 219.4v-2M158.78 1.4v2M162.97 219.4v-2M162.97 1.4v2M166.22 219.4v-4M166.22 1.4v4M176.32 219.4v-2M176.32 1.4v2M186.41 219.4v-2M186.41 1.4v2M192.32 219.4v-2M192.32 1.4v2M196.51 219.4v-2M196.51 1.4v2M199.76 219.4v-4M199.76 1.4v4M209.86 219.4v-2M209.86 1.4v2M219.95 219.4v-2M219.95 1.4v2M225.86 219.4v-2M225.86 1.4v2M230.05 219.4v-2M230.05 1.4v2M233.3 219.4v-4M233.3 1.4v4M243.4 219.4v-2M243.4 1.4v2M253.49 219.4v-2M253.49 1.4v2M259.4 219.4v-2M259.4 1.4v2M263.59 219.4v-2M263.59 1.4v2M266.84 219.4v-4M266.84 1.4v4M276.94 219.4v-2M276.94 1.4v2M287.03 219.4v-2M287.03 1.4v2M292.94 219.4v-2M292.94 1.4v2M297.13 219.4v-2M297.13 1.4v2M300.38 219.4v-4M300.38 1.4v4M310.48 219.4v-2M310.48 1.4v2M320.57 219.4v-2M320.57 1.4v2M326.48 219.4v-2M326.48 1.4v2M330.67 219.4v-2M330.67 1.4v2M333.92 219.4v-4M333.92 1.4v4M42 7.42h2M343.9 7.42h-2M42 11.04h2M343.9 11.04h-2M42 13.61h2M343.9 13.61h-2M42 15.6h4M343.9 15.6h-4M42 21.79h2M343.9 21.79h-2M42 27.98h2M343.9 27.98h-2M42 31.6h2M343.9 31.6h-2M42 34.17h2M343.9 34.17h-2M42 36.16h4M343.9 36.16h-4M42 42.35h2M343.9 42.35h-2M42 48.54h2M343.9 48.54h-2M42 52.16h2M343.9 52.16h-2M42 54.73h2M343.9 54.73h-2M42 56.72h4M343.9 56.72h-4M42 62.91h2M343.9 62.91h-2M42 69.1h2M343.9 69.1h-2M42 72.72h2M343.9 72.72h-2M42 75.29h2M343.9 75.29h-2M42 77.28h4M343.9 77.28h-4M42 83.47h2M343.9 83.47h-2M42 89.66h2M343.9 89.66h-2M42 93.28h2M343.9 93.28h-2M42 95.85h2M343.9 95.85h-2M42 97.84h4M343.9 97.84h-4M42 104.03h2M343.9 104.03h-2M42 110.22h2M343.9 110.22h-2M42 113.84h2M343.9 113.84h-2M42 116.41h2M343.9 116.41h-2M42 118.4h4M343.9 118.4h-4M42 124.59h2M343.9 124.59h-2M42 130.78h2M343.9 130.78h-2M42 134.4h2M343.9 134.4h-2M42 136.97h2M343.9 136.97h-2M42 138.96h4M343.9 138.96h-4M42 145.15h2M343.9 145.15h-2M42 151.34h2M343.9 151.34h-2M42 154.96h2M343.9 154.96h-2M42 157.53h2M343.9 157.53h-2M42 159.52h4M343.9 159.52h-4M42 165.71h2M343.9 165.71h-2M42 171.9h2M343.9 171.9h-2M42 175.52h2M343.9 175.52h-2M42 178.09h2M343.9 178.09h-2M42 180.08h4M343.9 180.08h-4M42 186.27h2M343.9 186.27h-2M42 192.46h2M343.9 192.46h-2M42 196.08h2M343.9 196.08h-2M42 198.65h2M343.9 198.65h-2M42 200.64h4M343.9 200.64h-4M42 206.83h2M343.9 206.83h-2M42 213.02h2M343.9 213.02h-2M42 216.64h2M343.9 216.64h-2" stroke="#000" stroke-width="1" fill="none"/>
<path d="M391.75 220.4v-2M391.75 2.45v2M397.66 220.4v-2M397.66 2.45v2M401.85 220.4v-2M401.85 2.45v2M405.1 220.4v-4M405.1 2.45v4M415.2 220.4v-2M415.2 2.45v2M425.29 220.4v-2M425.29 2.45v2M431.2 220.4v-2M431.2 2.45v2M435.39 220.4v-2M435.39 2.45v2M438.64 220.4v-4M438.64 2.45v4M448.74 220.4v-2M448.74 2.45v2M458.83 220.4v-2M458.83 2.45v2M464.74 220.4v-2M464.74 2.45v2M468.93 220.4v-2M468.93 2.45v2M472.18 220.4v-4M472.18 2.45v4M482.28 220.4v-2M482.28 2.45v2M492.37 220.4v-2M492.37 2.45v2M498.28 220.4v-2M498.28 2.45v2M502.47 220.4v-2M502.47 2.45v2M505.72 220.4v-4M505.72 2.45v4M515.82 220.4v-2M515.82 2.45v2M525.91 220.4v-2M525.91 2.45v2M531.82 220.4v-2M531.82 2.45v2M536.01 220.4v-2M536.01 2.45v2M539.26 220.4v-4M539.26 2.45v4M549.36 220.4v-2M549.36 2.45v2M559.45 220.4v-2M559.45 2.45v2M565.36 220.4v-2M565.36 2.45v2M569.55 220.4v-2M569.55 2.45v2M572.8 220.4v-4M572.8 2.45v4M582.9 220.4v-2M582.9 2.45v2M592.99 220.4v-2M592.99 2.45v2M598.9 220.4v-2M598.9 2.45v2M603.09 220.4v-2M603.09 2.45v2M606.34 220.4v-4M606.34 2.45v4M616.44 220.4v-2M616.44 2.45v2M626.53 220.4v-2M626.53 2.45v2M632.44 220.4v-2M632.44 2.45v2M636.63 220.4v-2M636.63 2.45v2M639.88 220.4v-4M639.88 2.45v4M649.98 220.4v-2M649.98 2.45v2M660.07 220.4v-2M660.07 2.45v2M665.98 220.4v-2M665.98 2.45v2M670.17 220.4v-2M670.17 2.45v2M673.42 220.4v-4M673.42 2.45v4M381.7 8.82h2M683.1 8.82h-2M381.7 12.44h2M683.1 12.44h-2M381.7 15.01h2M683.1 15.01h-2M381.7 17h4M683.1 17h-4M381.7 23.19h2M683.1 23.19h-2M381.7 29.38h2M683.1 29.38h-2M381.7 33h2M683.1 33h-2M381.7 35.57h2M683.1 35.57h-2M381.7 37.56h4M683.1 37.56h-4M381.7 43.75h2M683.1 43.75h-2M381.7 49.94h2M683.1 49.94h-2M381.7 53.56h2M683.1 53.56h-2M381.7 56.13h2M683.1 56.13h-2M381.7 58.12h4M683.1 58.12h-4M381.7 64.31h2M683.1 64.31h-2M381.7 70.5h2M683.1 70.5h-2M381.7 74.12h2M683.1 74.12h-2M381.7 76.69h2M683.1 76.69h-2M381.7 78.68h4M683.1 78.68h-4M381.7 84.87h2M683.1 84.87h-2M381.7 91.06h2M683.1 91.06h-2M381.7 94.68h2M683.1 94.68h-2M381.7 97.25h2M683.1 97.25h-2M381.7 99.24h4M683.1 99.24h-4M381.7 105.43h2M683.1 105.43h-2M381.7 111.62h2M683.1 111.62h-2M381.7 115.24h2M683.1 115.24h-2M381.7 117.81h2M683.1 117.81h-2M381.7 119.8h4M683.1 119.8h-4M381.7 125.99h2M683.1 125.99h-2M381.7 132.18h2M683.1 132.18h-2M381.7 135.8h2M683.1 135.8h-2M381.7 138.37h2M683.1 138.37h-2M381.7 140.36h4M683.1 140.36h-4M381.7 146.55h2M683.1 146.55h-2M381.7 152.74h2M683.1 152.74h-2M381.7 156.36h2M683.1 156.36h-2M381.7 158.93h2M683.1 158.93h-2M381.7 160.92h4M683.1 160.92h-4M381.7 167.11h2M683.1 167.11h-2M381.7 173.3h2M683.1 173.3h-2M381.7 176.92h2M683.1 176.92h-2M381.7 179.49h2M683.1 179.49h-2M381.7 181.48h4M683.1 181.48h-4M381.7 187.67h2M683.1 187.67h-2M381.7 193.86h2M683.1 193.86h-2M381.7 197.48h2M683.1 197.48h-2M381.7 200.05h2M683.1 200.05h-2M381.7 202.04h4M683.1 202.04h-4M381.7 208.23h2M683.1 208.23h-2M381.7 214.42h2M683.1 214.42h-2M381.7 218.04h2M683.1 218.04h-2" stroke="#000" stroke-width="1" fill="none"/>
<rect x="42" y="1.4" width="301.9" height="218" fill="none" stroke="#000" stroke-width="1.2"/>
<rect x="381.7" y="2.45" width="301.4" height="217.95" fill="none" stroke="#000" stroke-width="1.2"/>
<text transform="translate(55.56 233.8) scale(1.000 1)" font-size="9.86" style="font-family:'Liberation Sans';font-style:normal" fill="#000" stroke="#000" stroke-width="0.2">10</text>
<text transform="translate(68.83 228.73) scale(1.250 1)" font-size="6.62" style="font-family:'Liberation Sans';font-style:normal" fill="#000" stroke="#000" stroke-width="0.15">9</text>
<rect x="67.2" y="226.2" width="1.4" height="0.8" fill="#888"/>
<text transform="translate(89.1 233.8) scale(1.000 1)" font-size="9.86" style="font-family:'Liberation Sans';font-style:normal" fill="#000" stroke="#000" stroke-width="0.2">10</text>
<text transform="translate(102.37 228.73) scale(1.250 1)" font-size="6.62" style="font-family:'Liberation Sans';font-style:normal" fill="#000" stroke="#000" stroke-width="0.15">8</text>
<rect x="100.74" y="226.2" width="1.4" height="0.8" fill="#888"/>
<text transform="translate(122.64 233.8) scale(1.000 1)" font-size="9.86" style="font-family:'Liberation Sans';font-style:normal" fill="#000" stroke="#000" stroke-width="0.2">10</text>
<text transform="translate(135.85 228.8) scale(1.250 1)" font-size="6.81" style="font-family:'Liberation Sans';font-style:normal" fill="#000" stroke="#000" stroke-width="0.15">7</text>
<rect x="134.28" y="226.2" width="1.4" height="0.8" fill="#888"/>
<text transform="translate(156.18 233.8) scale(1.000 1)" font-size="9.86" style="font-family:'Liberation Sans';font-style:normal" fill="#000" stroke="#000" stroke-width="0.2">10</text>
<text transform="translate(169.41 228.73) scale(1.250 1)" font-size="6.62" style="font-family:'Liberation Sans';font-style:normal" fill="#000" stroke="#000" stroke-width="0.15">6</text>
<rect x="167.82" y="226.2" width="1.4" height="0.8" fill="#888"/>
<text transform="translate(189.72 233.8) scale(1.000 1)" font-size="9.86" style="font-family:'Liberation Sans';font-style:normal" fill="#000" stroke="#000" stroke-width="0.2">10</text>
<text transform="translate(203.02 228.73) scale(1.250 1)" font-size="6.71" style="font-family:'Liberation Sans';font-style:normal" fill="#000" stroke="#000" stroke-width="0.15">5</text>
<rect x="201.36" y="226.2" width="1.4" height="0.8" fill="#888"/>
<text transform="translate(223.26 233.8) scale(1.000 1)" font-size="9.86" style="font-family:'Liberation Sans';font-style:normal" fill="#000" stroke="#000" stroke-width="0.2">10</text>
<text transform="translate(236.69 228.8) scale(1.250 1)" font-size="6.81" style="font-family:'Liberation Sans';font-style:normal" fill="#000" stroke="#000" stroke-width="0.15">4</text>
<rect x="234.9" y="226.2" width="1.4" height="0.8" fill="#888"/>
<text transform="translate(256.8 233.8) scale(1.000 1)" font-size="9.86" style="font-family:'Liberation Sans';font-style:normal" fill="#000" stroke="#000" stroke-width="0.2">10</text>
<text transform="translate(270.11 228.73) scale(1.250 1)" font-size="6.62" style="font-family:'Liberation Sans';font-style:normal" fill="#000" stroke="#000" stroke-width="0.15">3</text>
<rect x="268.44" y="226.2" width="1.4" height="0.8" fill="#888"/>
<text transform="translate(290.34 233.8) scale(1.000 1)" font-size="9.86" style="font-family:'Liberation Sans';font-style:normal" fill="#000" stroke="#000" stroke-width="0.2">10</text>
<text transform="translate(303.56 228.8) scale(1.250 1)" font-size="6.71" style="font-family:'Liberation Sans';font-style:normal" fill="#000" stroke="#000" stroke-width="0.15">2</text>
<rect x="301.98" y="226.2" width="1.4" height="0.8" fill="#888"/>
<text transform="translate(323.88 233.8) scale(1.000 1)" font-size="9.86" style="font-family:'Liberation Sans';font-style:normal" fill="#000" stroke="#000" stroke-width="0.2">10</text>
<text transform="translate(336.88 228.8) scale(1.250 1)" font-size="6.81" style="font-family:'Liberation Sans';font-style:normal" fill="#000" stroke="#000" stroke-width="0.15">1</text>
<rect x="335.52" y="226.2" width="1.4" height="0.8" fill="#888"/>
<text transform="translate(16.84 19.8) scale(0.919 1)" font-size="9.58" style="font-family:'Liberation Sans';font-style:normal" fill="#000" stroke="#000" stroke-width="0.2">10</text>
<text transform="translate(31.25 15.14) scale(1.150 1)" font-size="6.34" style="font-family:'Liberation Sans';font-style:normal" fill="#000" stroke="#000" stroke-width="0.15">8</text>
<rect x="28.4" y="13.1" width="1.5" height="0.8" fill="#888"/>
<text transform="translate(16.84 40.36) scale(0.919 1)" font-size="9.58" style="font-family:'Liberation Sans';font-style:normal" fill="#000" stroke="#000" stroke-width="0.2">10</text>
<text transform="translate(31.21 35.76) scale(1.150 1)" font-size="6.52" style="font-family:'Liberation Sans';font-style:normal" fill="#000" stroke="#000" stroke-width="0.15">7</text>
<rect x="28.4" y="33.66" width="1.5" height="0.8" fill="#888"/>
<text transform="translate(16.84 60.92) scale(0.919 1)" font-size="9.58" style="font-family:'Liberation Sans';font-style:normal" fill="#000" stroke="#000" stroke-width="0.2">10</text>
<text transform="translate(31.28 56.26) scale(1.150 1)" font-size="6.34" style="font-family:'Liberation Sans';font-style:normal" fill="#000" stroke="#000" stroke-width="0.15">6</text>
<rect x="28.4" y="54.22" width="1.5" height="0.8" fill="#888"/>
<text transform="translate(16.84 81.48) scale(0.919 1)" font-size="9.58" style="font-family:'Liberation Sans';font-style:normal" fill="#000" stroke="#000" stroke-width="0.2">10</text>
<text transform="translate(31.19 76.82) scale(1.150 1)" font-size="6.43" style="font-family:'Liberation Sans';font-style:normal" fill="#000" stroke="#000" stroke-width="0.15">5</text>
<rect x="28.4" y="74.78" width="1.5" height="0.8" fill="#888"/>
<text transform="translate(16.84 102.04) scale(0.919 1)" font-size="9.58" style="font-family:'Liberation Sans';font-style:normal" fill="#000" stroke="#000" stroke-width="0.2">10</text>
<text transform="translate(31.06 97.44) scale(1.150 1)" font-size="6.52" style="font-family:'Liberation Sans';font-style:normal" fill="#000" stroke="#000" stroke-width="0.15">4</text>
<rect x="28.4" y="95.34" width="1.5" height="0.8" fill="#888"/>
<text transform="translate(16.84 122.6) scale(0.919 1)" font-size="9.58" style="font-family:'Liberation Sans';font-style:normal" fill="#000" stroke="#000" stroke-width="0.2">10</text>
<text transform="translate(31.28 117.94) scale(1.150 1)" font-size="6.34" style="font-family:'Liberation Sans';font-style:normal" fill="#000" stroke="#000" stroke-width="0.15">3</text>
<rect x="28.4" y="115.9" width="1.5" height="0.8" fill="#888"/>
<text transform="translate(16.84 143.16) scale(0.919 1)" font-size="9.58" style="font-family:'Liberation Sans';font-style:normal" fill="#000" stroke="#000" stroke-width="0.2">10</text>
<text transform="translate(31.27 138.56) scale(1.150 1)" font-size="6.43" style="font-family:'Liberation Sans';font-style:normal" fill="#000" stroke="#000" stroke-width="0.15">2</text>
<rect x="28.4" y="136.46" width="1.5" height="0.8" fill="#888"/>
<text transform="translate(16.84 163.72) scale(0.919 1)" font-size="9.58" style="font-family:'Liberation Sans';font-style:normal" fill="#000" stroke="#000" stroke-width="0.2">10</text>
<text transform="translate(30.81 159.12) scale(0.800 1)" font-size="6.52" style="font-family:'Liberation Sans';font-style:normal" fill="#000" stroke="#000" stroke-width="0.15">1</text>
<rect x="28.4" y="157.02" width="1.5" height="0.8" fill="#888"/>
<text transform="translate(19.44 184.28) scale(0.919 1)" font-size="9.58" style="font-family:'Liberation Sans';font-style:normal" fill="#000" stroke="#000" stroke-width="0.2">10</text>
<text transform="translate(31.35 179.62) scale(1.150 1)" font-size="6.34" style="font-family:'Liberation Sans';font-style:normal" fill="#000" stroke="#000" stroke-width="0.15">0</text>
<text transform="translate(19.44 204.84) scale(0.919 1)" font-size="9.58" style="font-family:'Liberation Sans';font-style:normal" fill="#000" stroke="#000" stroke-width="0.2">10</text>
<text transform="translate(31.61 200.24) scale(0.800 1)" font-size="6.52" style="font-family:'Liberation Sans';font-style:normal" fill="#000" stroke="#000" stroke-width="0.15">1</text>
<text transform="translate(395.06 234.7) scale(1.000 1)" font-size="9.86" style="font-family:'Liberation Sans';font-style:normal" fill="#000" stroke="#000" stroke-width="0.2">10</text>
<text transform="translate(408.33 229.63) scale(1.250 1)" font-size="6.62" style="font-family:'Liberation Sans';font-style:normal" fill="#000" stroke="#000" stroke-width="0.15">9</text>
<rect x="406.7" y="227.1" width="1.4" height="0.8" fill="#888"/>
<text transform="translate(428.6 234.7) scale(1.000 1)" font-size="9.86" style="font-family:'Liberation Sans';font-style:normal" fill="#000" stroke="#000" stroke-width="0.2">10</text>
<text transform="translate(441.87 229.63) scale(1.250 1)" font-size="6.62" style="font-family:'Liberation Sans';font-style:normal" fill="#000" stroke="#000" stroke-width="0.15">8</text>
<rect x="440.24" y="227.1" width="1.4" height="0.8" fill="#888"/>
<text transform="translate(462.14 234.7) scale(1.000 1)" font-size="9.86" style="font-family:'Liberation Sans';font-style:normal" fill="#000" stroke="#000" stroke-width="0.2">10</text>
<text transform="translate(475.35 229.7) scale(1.250 1)" font-size="6.81" style="font-family:'Liberation Sans';font-style:normal" fill="#000" stroke="#000" stroke-width="0.15">7</text>
<rect x="473.78" y="227.1" width="1.4" height="0.8" fill="#888"/>
<text transform="translate(495.68 234.7) scale(1.000 1)" font-size="9.86" style="font-family:'Liberation Sans';font-style:normal" fill="#000" stroke="#000" stroke-width="0.2">10</text>
<text transform="translate(508.91 229.63) scale(1.250 1)" font-size="6.62" style="font-family:'Liberation Sans';font-style:normal" fill="#000" stroke="#000" stroke-width="0.15">6</text>
<rect x="507.32" y="227.1" width="1.4" height="0.8" fill="#888"/>
<text transform="translate(529.22 234.7) scale(1.000 1)" font-size="9.86" style="font-family:'Liberation Sans';font-style:normal" fill="#000" stroke="#000" stroke-width="0.2">10</text>
<text transform="translate(542.52 229.63) scale(1.250 1)" font-size="6.71" style="font-family:'Liberation Sans';font-style:normal" fill="#000" stroke="#000" stroke-width="0.15">5</text>
<rect x="540.86" y="227.1" width="1.4" height="0.8" fill="#888"/>
<text transform="translate(562.76 234.7) scale(1.000 1)" font-size="9.86" style="font-family:'Liberation Sans';font-style:normal" fill="#000" stroke="#000" stroke-width="0.2">10</text>
<text transform="translate(576.19 229.7) scale(1.250 1)" font-size="6.81" style="font-family:'Liberation Sans';font-style:normal" fill="#000" stroke="#000" stroke-width="0.15">4</text>
<rect x="574.4" y="227.1" width="1.4" height="0.8" fill="#888"/>
<text transform="translate(596.3 234.7) scale(1.000 1)" font-size="9.86" style="font-family:'Liberation Sans';font-style:normal" fill="#000" stroke="#000" stroke-width="0.2">10</text>
<text transform="translate(609.61 229.63) scale(1.250 1)" font-size="6.62" style="font-family:'Liberation Sans';font-style:normal" fill="#000" stroke="#000" stroke-width="0.15">3</text>
<rect x="607.94" y="227.1" width="1.4" height="0.8" fill="#888"/>
<text transform="translate(629.84 234.7) scale(1.000 1)" font-size="9.86" style="font-family:'Liberation Sans';font-style:normal" fill="#000" stroke="#000" stroke-width="0.2">10</text>
<text transform="translate(643.06 229.7) scale(1.250 1)" font-size="6.71" style="font-family:'Liberation Sans';font-style:normal" fill="#000" stroke="#000" stroke-width="0.15">2</text>
<rect x="641.48" y="227.1" width="1.4" height="0.8" fill="#888"/>
<text transform="translate(663.38 234.7) scale(1.000 1)" font-size="9.86" style="font-family:'Liberation Sans';font-style:normal" fill="#000" stroke="#000" stroke-width="0.2">10</text>
<text transform="translate(676.38 229.7) scale(1.250 1)" font-size="6.81" style="font-family:'Liberation Sans';font-style:normal" fill="#000" stroke="#000" stroke-width="0.15">1</text>
<rect x="675.02" y="227.1" width="1.4" height="0.8" fill="#888"/>
<text transform="translate(356.54 21.2) scale(0.919 1)" font-size="9.58" style="font-family:'Liberation Sans';font-style:normal" fill="#000" stroke="#000" stroke-width="0.2">10</text>
<text transform="translate(370.95 16.54) scale(1.150 1)" font-size="6.34" style="font-family:'Liberation Sans';font-style:normal" fill="#000" stroke="#000" stroke-width="0.15">8</text>
<rect x="368.1" y="14.5" width="1.5" height="0.8" fill="#888"/>
<text transform="translate(356.54 41.76) scale(0.919 1)" font-size="9.58" style="font-family:'Liberation Sans';font-style:normal" fill="#000" stroke="#000" stroke-width="0.2">10</text>
<text transform="translate(370.91 37.16) scale(1.150 1)" font-size="6.52" style="font-family:'Liberation Sans';font-style:normal" fill="#000" stroke="#000" stroke-width="0.15">7</text>
<rect x="368.1" y="35.06" width="1.5" height="0.8" fill="#888"/>
<text transform="translate(356.54 62.32) scale(0.919 1)" font-size="9.58" style="font-family:'Liberation Sans';font-style:normal" fill="#000" stroke="#000" stroke-width="0.2">10</text>
<text transform="translate(370.98 57.66) scale(1.150 1)" font-size="6.34" style="font-family:'Liberation Sans';font-style:normal" fill="#000" stroke="#000" stroke-width="0.15">6</text>
<rect x="368.1" y="55.62" width="1.5" height="0.8" fill="#888"/>
<text transform="translate(356.54 82.88) scale(0.919 1)" font-size="9.58" style="font-family:'Liberation Sans';font-style:normal" fill="#000" stroke="#000" stroke-width="0.2">10</text>
<text transform="translate(370.89 78.22) scale(1.150 1)" font-size="6.43" style="font-family:'Liberation Sans';font-style:normal" fill="#000" stroke="#000" stroke-width="0.15">5</text>
<rect x="368.1" y="76.18" width="1.5" height="0.8" fill="#888"/>
<text transform="translate(356.54 103.44) scale(0.919 1)" font-size="9.58" style="font-family:'Liberation Sans';font-style:normal" fill="#000" stroke="#000" stroke-width="0.2">10</text>
<text transform="translate(370.76 98.84) scale(1.150 1)" font-size="6.52" style="font-family:'Liberation Sans';font-style:normal" fill="#000" stroke="#000" stroke-width="0.15">4</text>
<rect x="368.1" y="96.74" width="1.5" height="0.8" fill="#888"/>
<text transform="translate(356.54 124) scale(0.919 1)" font-size="9.58" style="font-family:'Liberation Sans';font-style:normal" fill="#000" stroke="#000" stroke-width="0.2">10</text>
<text transform="translate(370.98 119.34) scale(1.150 1)" font-size="6.34" style="font-family:'Liberation Sans';font-style:normal" fill="#000" stroke="#000" stroke-width="0.15">3</text>
<rect x="368.1" y="117.3" width="1.5" height="0.8" fill="#888"/>
<text transform="translate(356.54 144.56) scale(0.919 1)" font-size="9.58" style="font-family:'Liberation Sans';font-style:normal" fill="#000" stroke="#000" stroke-width="0.2">10</text>
<text transform="translate(370.97 139.96) scale(1.150 1)" font-size="6.43" style="font-family:'Liberation Sans';font-style:normal" fill="#000" stroke="#000" stroke-width="0.15">2</text>
<rect x="368.1" y="137.86" width="1.5" height="0.8" fill="#888"/>
<text transform="translate(356.54 165.12) scale(0.919 1)" font-size="9.58" style="font-family:'Liberation Sans';font-style:normal" fill="#000" stroke="#000" stroke-width="0.2">10</text>
<text transform="translate(370.51 160.52) scale(0.800 1)" font-size="6.52" style="font-family:'Liberation Sans';font-style:normal" fill="#000" stroke="#000" stroke-width="0.15">1</text>
<rect x="368.1" y="158.42" width="1.5" height="0.8" fill="#888"/>
<text transform="translate(359.14 185.68) scale(0.919 1)" font-size="9.58" style="font-family:'Liberation Sans';font-style:normal" fill="#000" stroke="#000" stroke-width="0.2">10</text>
<text transform="translate(371.05 181.02) scale(1.150 1)" font-size="6.34" style="font-family:'Liberation Sans';font-style:normal" fill="#000" stroke="#000" stroke-width="0.15">0</text>
<text transform="translate(359.14 206.24) scale(0.919 1)" font-size="9.58" style="font-family:'Liberation Sans';font-style:normal" fill="#000" stroke="#000" stroke-width="0.2">10</text>
<text transform="translate(371.31 201.64) scale(0.800 1)" font-size="6.52" style="font-family:'Liberation Sans';font-style:normal" fill="#000" stroke="#000" stroke-width="0.15">1</text>
<text transform="translate(154.72 249.8) scale(1.242 1)" font-size="9.66" style="font-family:'Liberation Sans';font-style:normal" fill="#000" stroke="#000" stroke-width="0.2">mole fraction</text>
<text transform="translate(491.62 246.8) scale(1.193 1)" font-size="10.07" style="font-family:'Liberation Sans';font-style:normal" fill="#000" stroke="#000" stroke-width="0.2">mole fraction</text>
<text transform="translate(8.06 147.77) rotate(-90) scale(1.223 1)" font-size="9.73">pressure (bar)</text>
<text transform="translate(60.72 36.55) scale(0.940 1)" font-size="14.51" style="font-family:'Liberation Sans';font-style:normal" fill="#000" stroke="#000" stroke-width="0.25">CO</text>
<text transform="translate(400.11 77.87) scale(1.086 1)" font-size="12.68" style="font-family:'Liberation Sans';font-style:normal" fill="#000" stroke="#000" stroke-width="0.25">CH</text>
<text transform="translate(419.9 81.8) scale(0.993 1)" font-size="8.26" style="font-family:'Liberation Sans';font-style:normal" fill="#000" stroke="#000" stroke-width="0.15">4</text>
<rect x="391" y="118" width="176.6" height="92.1" fill="#fff" stroke="#000" stroke-width="1.2"/>
<text transform="translate(397.39 139.03) scale(0.901 1)" font-size="11.61" style="font-family:'Liberation Serif';font-style:italic" fill="#ff0000" stroke="#ff0000" stroke-width="0.15">ζ</text>
<text transform="translate(402.68 141.4) scale(0.976 1)" font-size="7.02" style="font-family:'Liberation Serif';font-style:normal" fill="#ff0000" stroke="#ff0000" stroke-width="0.15">1</text>
<text transform="translate(407.22 138.5) scale(1.382 1)" font-size="10.92" style="font-family:'Liberation Serif';font-style:italic" fill="#ff0000" stroke="#fff" stroke-width="0.12">T</text>
<text transform="translate(416.57 143.29) scale(0.969 1)" font-size="10.87" style="font-family:'Liberation Serif';font-style:normal" fill="#ff0000" stroke="#ff0000" stroke-width="0.1">+</text>
<text transform="translate(421.9 141.33) scale(1.252 1)" font-size="7.11" style="font-family:'Liberation Serif';font-style:normal" fill="#ff0000" stroke="#ff0000" stroke-width="0.15">100</text>
<path d="M467.3 134.3H504.8" stroke="#000" stroke-width="1.3"/>
<text transform="translate(512.04 138.5) scale(1.166 1)" font-size="12.15" style="font-family:'Liberation Serif';font-style:italic" fill="#000" stroke="#fff" stroke-width="0.12">K</text>
<text transform="translate(521.99 141.4) scale(1.170 1)" font-size="7.61" style="font-family:'Liberation Serif';font-style:italic" fill="#000">zz</text>
<text transform="translate(524.33 134.42) scale(0.895 1)" font-size="9.38" style="font-family:'Liberation Serif';font-style:normal" fill="#000" stroke="#000" stroke-width="0.08">×</text>
<text transform="translate(528.73 133.24) scale(1.367 1)" font-size="6.22" style="font-family:'Liberation Serif';font-style:normal" fill="#000" stroke="#000" stroke-width="0.12">10</text>
<text transform="translate(540.26 138.76) scale(1.082 1)" font-size="11.54" style="font-family:'Liberation Serif';font-style:italic" fill="#000" stroke="#fff" stroke-width="0.12">F</text>
<text transform="translate(547.25 141.5) scale(1.445 1)" font-size="7.00" style="font-family:'Liberation Serif';font-style:italic" fill="#000">λ</text>
<text transform="translate(549.83 134.42) scale(0.895 1)" font-size="9.38" style="font-family:'Liberation Serif';font-style:normal" fill="#000" stroke="#000" stroke-width="0.08">×</text>
<text transform="translate(553.98 133.24) scale(1.459 1)" font-size="6.22" style="font-family:'Liberation Serif';font-style:normal" fill="#000" stroke="#000" stroke-width="0.12">10</text>
<text transform="translate(397.39 159.68) scale(0.901 1)" font-size="11.61" style="font-family:'Liberation Serif';font-style:italic" fill="#008000" stroke="#008000" stroke-width="0.15">ζ</text>
<text transform="translate(402.68 162.05) scale(0.976 1)" font-size="7.02" style="font-family:'Liberation Serif';font-style:normal" fill="#008000" stroke="#008000" stroke-width="0.15">1</text>
<text transform="translate(407.22 159.15) scale(1.382 1)" font-size="10.92" style="font-family:'Liberation Serif';font-style:italic" fill="#008000" stroke="#fff" stroke-width="0.12">T</text>
<text transform="translate(415.27 165.73) scale(0.659 1)" font-size="16.00" style="font-family:'Liberation Serif';font-style:normal" fill="#008000">−</text>
<text transform="translate(420.9 161.98) scale(1.252 1)" font-size="7.11" style="font-family:'Liberation Serif';font-style:normal" fill="#008000" stroke="#008000" stroke-width="0.15">100</text>
<path d="M467.3 154.85H504.8" stroke="#000" stroke-width="1.3" stroke-dasharray="7.1,7.1"/>
<text transform="translate(512.04 159.15) scale(1.166 1)" font-size="12.15" style="font-family:'Liberation Serif';font-style:italic" fill="#000" stroke="#fff" stroke-width="0.12">K</text>
<text transform="translate(521.99 162.05) scale(1.170 1)" font-size="7.61" style="font-family:'Liberation Serif';font-style:italic" fill="#000">zz</text>
<text transform="translate(524.33 155.07) scale(0.895 1)" font-size="9.38" style="font-family:'Liberation Serif';font-style:normal" fill="#000" stroke="#000" stroke-width="0.08">×</text>
<text transform="translate(528.73 153.89) scale(1.367 1)" font-size="6.22" style="font-family:'Liberation Serif';font-style:normal" fill="#000" stroke="#000" stroke-width="0.12">10</text>
<text transform="translate(540.26 159.41) scale(1.082 1)" font-size="11.54" style="font-family:'Liberation Serif';font-style:italic" fill="#000" stroke="#fff" stroke-width="0.12">F</text>
<text transform="translate(547.25 162.15) scale(1.445 1)" font-size="7.00" style="font-family:'Liberation Serif';font-style:italic" fill="#000">λ</text>
<text transform="translate(549.73 155.75) scale(1.078 1)" font-size="10.97" style="font-family:'Liberation Serif';font-style:normal" fill="#000">÷</text>
<text transform="translate(555.88 153.89) scale(1.293 1)" font-size="6.22" style="font-family:'Liberation Serif';font-style:normal" fill="#000" stroke="#000" stroke-width="0.12">10</text>
<text transform="translate(397.39 180.33) scale(0.901 1)" font-size="11.61" style="font-family:'Liberation Serif';font-style:italic" fill="#bf00bf" stroke="#bf00bf" stroke-width="0.15">ζ</text>
<text transform="translate(402.25 182.83) scale(1.146 1)" font-size="7.26" style="font-family:'Liberation Serif';font-style:normal" fill="#bf00bf" stroke="#bf00bf" stroke-width="0.15">100</text>
<text transform="translate(413.82 179.8) scale(1.382 1)" font-size="10.92" style="font-family:'Liberation Serif';font-style:italic" fill="#bf00bf" stroke="#fff" stroke-width="0.12">T</text>
<text transform="translate(423.17 184.59) scale(0.969 1)" font-size="10.87" style="font-family:'Liberation Serif';font-style:normal" fill="#bf00bf" stroke="#bf00bf" stroke-width="0.1">+</text>
<text transform="translate(428.5 182.63) scale(1.252 1)" font-size="7.11" style="font-family:'Liberation Serif';font-style:normal" fill="#bf00bf" stroke="#bf00bf" stroke-width="0.15">100</text>
<path d="M467.3 175.4H503.8" stroke="#000" stroke-width="1.3" stroke-dasharray="1.17,3.5" stroke-dashoffset="-0.5"/>
<text transform="translate(512.04 179.8) scale(1.166 1)" font-size="12.15" style="font-family:'Liberation Serif';font-style:italic" fill="#000" stroke="#fff" stroke-width="0.12">K</text>
<text transform="translate(521.99 182.7) scale(1.170 1)" font-size="7.61" style="font-family:'Liberation Serif';font-style:italic" fill="#000">zz</text>
<text transform="translate(524.34 176.4) scale(1.039 1)" font-size="10.97" style="font-family:'Liberation Serif';font-style:normal" fill="#000">÷</text>
<text transform="translate(530.68 174.54) scale(1.293 1)" font-size="6.22" style="font-family:'Liberation Serif';font-style:normal" fill="#000" stroke="#000" stroke-width="0.12">10</text>
<text transform="translate(541.56 180.06) scale(1.082 1)" font-size="11.54" style="font-family:'Liberation Serif';font-style:italic" fill="#000" stroke="#fff" stroke-width="0.12">F</text>
<text transform="translate(548.55 182.8) scale(1.445 1)" font-size="7.00" style="font-family:'Liberation Serif';font-style:italic" fill="#000">λ</text>
<text transform="translate(551.13 175.72) scale(0.895 1)" font-size="9.38" style="font-family:'Liberation Serif';font-style:normal" fill="#000" stroke="#000" stroke-width="0.08">×</text>
<text transform="translate(555.28 174.54) scale(1.459 1)" font-size="6.22" style="font-family:'Liberation Serif';font-style:normal" fill="#000" stroke="#000" stroke-width="0.12">10</text>
<text transform="translate(397.39 200.98) scale(0.901 1)" font-size="11.61" style="font-family:'Liberation Serif';font-style:italic" fill="#0000ff" stroke="#0000ff" stroke-width="0.15">ζ</text>
<text transform="translate(402.25 203.48) scale(1.146 1)" font-size="7.26" style="font-family:'Liberation Serif';font-style:normal" fill="#0000ff" stroke="#0000ff" stroke-width="0.15">100</text>
<text transform="translate(413.82 200.45) scale(1.382 1)" font-size="10.92" style="font-family:'Liberation Serif';font-style:italic" fill="#0000ff" stroke="#fff" stroke-width="0.12">T</text>
<text transform="translate(421.87 207.03) scale(0.659 1)" font-size="16.00" style="font-family:'Liberation Serif';font-style:normal" fill="#0000ff">−</text>
<text transform="translate(427.5 203.28) scale(1.252 1)" font-size="7.11" style="font-family:'Liberation Serif';font-style:normal" fill="#0000ff" stroke="#0000ff" stroke-width="0.15">100</text>
<path d="M467.3 195.95H504.8" stroke="#000" stroke-width="1.3" stroke-dasharray="3.5,5.9,1.17,5.9"/>
<text transform="translate(512.04 200.45) scale(1.166 1)" font-size="12.15" style="font-family:'Liberation Serif';font-style:italic" fill="#000" stroke="#fff" stroke-width="0.12">K</text>
<text transform="translate(521.99 203.35) scale(1.170 1)" font-size="7.61" style="font-family:'Liberation Serif';font-style:italic" fill="#000">zz</text>
<text transform="translate(524.34 197.05) scale(1.039 1)" font-size="10.97" style="font-family:'Liberation Serif';font-style:normal" fill="#000">÷</text>
<text transform="translate(530.68 195.19) scale(1.293 1)" font-size="6.22" style="font-family:'Liberation Serif';font-style:normal" fill="#000" stroke="#000" stroke-width="0.12">10</text>
<text transform="translate(541.56 200.71) scale(1.082 1)" font-size="11.54" style="font-family:'Liberation Serif';font-style:italic" fill="#000" stroke="#fff" stroke-width="0.12">F</text>
<text transform="translate(548.55 203.45) scale(1.445 1)" font-size="7.00" style="font-family:'Liberation Serif';font-style:italic" fill="#000">λ</text>
<text transform="translate(551.03 197.05) scale(1.078 1)" font-size="10.97" style="font-family:'Liberation Serif';font-style:normal" fill="#000">÷</text>
<text transform="translate(557.18 195.19) scale(1.293 1)" font-size="6.22" style="font-family:'Liberation Serif';font-style:normal" fill="#000" stroke="#000" stroke-width="0.12">10</text>
</svg>
</body></html>
